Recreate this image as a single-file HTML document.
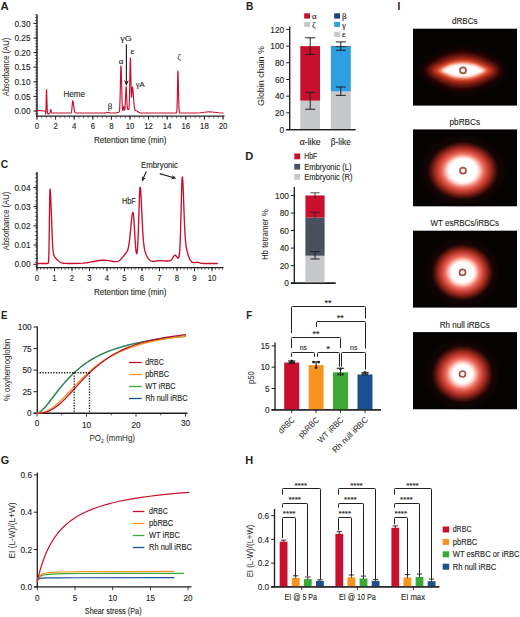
<!DOCTYPE html>
<html lang="en">
<head>
<meta charset="utf-8">
<title>Figure</title>
<style>
html, body { margin: 0; padding: 0; background: #ffffff; }
body { width: 520px; height: 617px; overflow: hidden; font-family: "Liberation Sans", sans-serif; }
svg { display: block; font-family: "Liberation Sans", sans-serif; }
</style>
</head>
<body>
<svg width="520" height="617" viewBox="0 0 520 617">
<rect x="0" y="0" width="520" height="617" fill="#ffffff"/>
<defs><filter id="b05" x="-30%" y="-60%" width="160%" height="220%"><feGaussianBlur stdDeviation="0.45"/></filter><filter id="b1" x="-30%" y="-60%" width="160%" height="220%"><feGaussianBlur stdDeviation="1.0"/></filter><filter id="b15" x="-30%" y="-60%" width="160%" height="220%"><feGaussianBlur stdDeviation="1.5"/></filter><filter id="b2" x="-30%" y="-60%" width="160%" height="220%"><feGaussianBlur stdDeviation="2.0"/></filter><filter id="b3" x="-30%" y="-60%" width="160%" height="220%"><feGaussianBlur stdDeviation="3.0"/></filter><filter id="b5" x="-30%" y="-60%" width="160%" height="220%"><feGaussianBlur stdDeviation="4.5"/></filter><radialGradient id="haze"><stop offset="0" stop-color="#4a120c" stop-opacity="0.95"/><stop offset="0.62" stop-color="#3a0e09" stop-opacity="0.8"/><stop offset="0.82" stop-color="#220806" stop-opacity="0.45"/><stop offset="1" stop-color="#060303" stop-opacity="0"/></radialGradient><clipPath id="clipd"><rect x="413" y="28.4" width="104" height="77.4"/></clipPath><clipPath id="clipp"><rect x="413" y="129.2" width="104" height="77.4"/></clipPath><radialGradient id="gp"><stop offset="0.000" stop-color="#ffffff" stop-opacity="1.0"/><stop offset="0.323" stop-color="#ffffff" stop-opacity="1.0"/><stop offset="0.386" stop-color="#ffe6e0" stop-opacity="1.0"/><stop offset="0.447" stop-color="#fbb9ae" stop-opacity="1.0"/><stop offset="0.524" stop-color="#ec7465" stop-opacity="1.0"/><stop offset="0.623" stop-color="#cf4437" stop-opacity="1.0"/><stop offset="0.733" stop-color="#94261b" stop-opacity="1.0"/><stop offset="0.832" stop-color="#47110b" stop-opacity="1.0"/><stop offset="0.909" stop-color="#160504" stop-opacity="1.0"/><stop offset="1.000" stop-color="#060303" stop-opacity="0"/></radialGradient><clipPath id="clipw"><rect x="413" y="230.4" width="104" height="77.4"/></clipPath><radialGradient id="gw"><stop offset="0.000" stop-color="#ffffff" stop-opacity="1.0"/><stop offset="0.300" stop-color="#ffffff" stop-opacity="1.0"/><stop offset="0.362" stop-color="#ffe6e0" stop-opacity="1.0"/><stop offset="0.426" stop-color="#fbb9ae" stop-opacity="1.0"/><stop offset="0.506" stop-color="#ec7465" stop-opacity="1.0"/><stop offset="0.610" stop-color="#cf4437" stop-opacity="1.0"/><stop offset="0.725" stop-color="#94261b" stop-opacity="1.0"/><stop offset="0.829" stop-color="#47110b" stop-opacity="1.0"/><stop offset="0.909" stop-color="#160504" stop-opacity="1.0"/><stop offset="1.000" stop-color="#060303" stop-opacity="0"/></radialGradient><clipPath id="clipr"><rect x="413" y="332.1" width="104" height="77.4"/></clipPath><radialGradient id="gr"><stop offset="0.000" stop-color="#ffffff" stop-opacity="1.0"/><stop offset="0.262" stop-color="#ffffff" stop-opacity="1.0"/><stop offset="0.322" stop-color="#ffe6e0" stop-opacity="1.0"/><stop offset="0.390" stop-color="#fbb9ae" stop-opacity="1.0"/><stop offset="0.477" stop-color="#ec7465" stop-opacity="1.0"/><stop offset="0.588" stop-color="#cf4437" stop-opacity="1.0"/><stop offset="0.711" stop-color="#94261b" stop-opacity="1.0"/><stop offset="0.823" stop-color="#47110b" stop-opacity="1.0"/><stop offset="0.909" stop-color="#160504" stop-opacity="1.0"/><stop offset="1.000" stop-color="#060303" stop-opacity="0"/></radialGradient></defs>
<text x="0.60" y="10.20" font-size="11" text-anchor="start" fill="#231f20" font-weight="bold" textLength="8.20" lengthAdjust="spacingAndGlyphs" >A</text>
<line x1="37.00" y1="14.50" x2="37.00" y2="116.80" stroke="#231f20" stroke-width="1.5" />
<line x1="33.40" y1="111.00" x2="37.00" y2="111.00" stroke="#231f20" stroke-width="1.0" />
<text x="30.60" y="114.10" font-size="8.8" text-anchor="end" fill="#231f20" stroke="#231f20" stroke-width="0.12" textLength="16.20" lengthAdjust="spacingAndGlyphs" >0.00</text>
<line x1="33.40" y1="96.40" x2="37.00" y2="96.40" stroke="#231f20" stroke-width="1.0" />
<text x="30.60" y="99.50" font-size="8.8" text-anchor="end" fill="#231f20" stroke="#231f20" stroke-width="0.12" textLength="16.20" lengthAdjust="spacingAndGlyphs" >0.05</text>
<line x1="33.40" y1="81.80" x2="37.00" y2="81.80" stroke="#231f20" stroke-width="1.0" />
<text x="30.60" y="84.90" font-size="8.8" text-anchor="end" fill="#231f20" stroke="#231f20" stroke-width="0.12" textLength="16.20" lengthAdjust="spacingAndGlyphs" >0.10</text>
<line x1="33.40" y1="67.20" x2="37.00" y2="67.20" stroke="#231f20" stroke-width="1.0" />
<text x="30.60" y="70.30" font-size="8.8" text-anchor="end" fill="#231f20" stroke="#231f20" stroke-width="0.12" textLength="16.20" lengthAdjust="spacingAndGlyphs" >0.15</text>
<line x1="33.40" y1="52.60" x2="37.00" y2="52.60" stroke="#231f20" stroke-width="1.0" />
<text x="30.60" y="55.70" font-size="8.8" text-anchor="end" fill="#231f20" stroke="#231f20" stroke-width="0.12" textLength="16.20" lengthAdjust="spacingAndGlyphs" >0.20</text>
<line x1="33.40" y1="38.00" x2="37.00" y2="38.00" stroke="#231f20" stroke-width="1.0" />
<text x="30.60" y="41.10" font-size="8.8" text-anchor="end" fill="#231f20" stroke="#231f20" stroke-width="0.12" textLength="16.20" lengthAdjust="spacingAndGlyphs" >0.25</text>
<line x1="33.40" y1="23.40" x2="37.00" y2="23.40" stroke="#231f20" stroke-width="1.0" />
<text x="30.60" y="26.50" font-size="8.8" text-anchor="end" fill="#231f20" stroke="#231f20" stroke-width="0.12" textLength="16.20" lengthAdjust="spacingAndGlyphs" >0.30</text>
<line x1="34.80" y1="113.92" x2="37.00" y2="113.92" stroke="#231f20" stroke-width="0.6" />
<line x1="34.80" y1="111.00" x2="37.00" y2="111.00" stroke="#231f20" stroke-width="0.6" />
<line x1="34.80" y1="108.08" x2="37.00" y2="108.08" stroke="#231f20" stroke-width="0.6" />
<line x1="34.80" y1="105.16" x2="37.00" y2="105.16" stroke="#231f20" stroke-width="0.6" />
<line x1="34.80" y1="102.24" x2="37.00" y2="102.24" stroke="#231f20" stroke-width="0.6" />
<line x1="34.80" y1="99.32" x2="37.00" y2="99.32" stroke="#231f20" stroke-width="0.6" />
<line x1="34.80" y1="96.40" x2="37.00" y2="96.40" stroke="#231f20" stroke-width="0.6" />
<line x1="34.80" y1="93.48" x2="37.00" y2="93.48" stroke="#231f20" stroke-width="0.6" />
<line x1="34.80" y1="90.56" x2="37.00" y2="90.56" stroke="#231f20" stroke-width="0.6" />
<line x1="34.80" y1="87.64" x2="37.00" y2="87.64" stroke="#231f20" stroke-width="0.6" />
<line x1="34.80" y1="84.72" x2="37.00" y2="84.72" stroke="#231f20" stroke-width="0.6" />
<line x1="34.80" y1="81.80" x2="37.00" y2="81.80" stroke="#231f20" stroke-width="0.6" />
<line x1="34.80" y1="78.88" x2="37.00" y2="78.88" stroke="#231f20" stroke-width="0.6" />
<line x1="34.80" y1="75.96" x2="37.00" y2="75.96" stroke="#231f20" stroke-width="0.6" />
<line x1="34.80" y1="73.04" x2="37.00" y2="73.04" stroke="#231f20" stroke-width="0.6" />
<line x1="34.80" y1="70.12" x2="37.00" y2="70.12" stroke="#231f20" stroke-width="0.6" />
<line x1="34.80" y1="67.20" x2="37.00" y2="67.20" stroke="#231f20" stroke-width="0.6" />
<line x1="34.80" y1="64.28" x2="37.00" y2="64.28" stroke="#231f20" stroke-width="0.6" />
<line x1="34.80" y1="61.36" x2="37.00" y2="61.36" stroke="#231f20" stroke-width="0.6" />
<line x1="34.80" y1="58.44" x2="37.00" y2="58.44" stroke="#231f20" stroke-width="0.6" />
<line x1="34.80" y1="55.52" x2="37.00" y2="55.52" stroke="#231f20" stroke-width="0.6" />
<line x1="34.80" y1="52.60" x2="37.00" y2="52.60" stroke="#231f20" stroke-width="0.6" />
<line x1="34.80" y1="49.68" x2="37.00" y2="49.68" stroke="#231f20" stroke-width="0.6" />
<line x1="34.80" y1="46.76" x2="37.00" y2="46.76" stroke="#231f20" stroke-width="0.6" />
<line x1="34.80" y1="43.84" x2="37.00" y2="43.84" stroke="#231f20" stroke-width="0.6" />
<line x1="34.80" y1="40.92" x2="37.00" y2="40.92" stroke="#231f20" stroke-width="0.6" />
<line x1="34.80" y1="38.00" x2="37.00" y2="38.00" stroke="#231f20" stroke-width="0.6" />
<line x1="34.80" y1="35.08" x2="37.00" y2="35.08" stroke="#231f20" stroke-width="0.6" />
<line x1="34.80" y1="32.16" x2="37.00" y2="32.16" stroke="#231f20" stroke-width="0.6" />
<line x1="34.80" y1="29.24" x2="37.00" y2="29.24" stroke="#231f20" stroke-width="0.6" />
<line x1="34.80" y1="26.32" x2="37.00" y2="26.32" stroke="#231f20" stroke-width="0.6" />
<line x1="34.80" y1="23.40" x2="37.00" y2="23.40" stroke="#231f20" stroke-width="0.6" />
<line x1="34.80" y1="20.48" x2="37.00" y2="20.48" stroke="#231f20" stroke-width="0.6" />
<line x1="34.80" y1="17.56" x2="37.00" y2="17.56" stroke="#231f20" stroke-width="0.6" />
<line x1="34.80" y1="14.64" x2="37.00" y2="14.64" stroke="#231f20" stroke-width="0.6" />
<line x1="36.25" y1="116.10" x2="224.50" y2="116.10" stroke="#231f20" stroke-width="1.4" />
<line x1="37.00" y1="116.10" x2="37.00" y2="119.70" stroke="#231f20" stroke-width="1.0" />
<text x="37.00" y="129.30" font-size="8.4" text-anchor="middle" fill="#231f20" stroke="#231f20" stroke-width="0.12" textLength="4.35" lengthAdjust="spacingAndGlyphs" >0</text>
<line x1="55.60" y1="116.10" x2="55.60" y2="119.70" stroke="#231f20" stroke-width="1.0" />
<text x="55.60" y="129.30" font-size="8.4" text-anchor="middle" fill="#231f20" stroke="#231f20" stroke-width="0.12" textLength="4.35" lengthAdjust="spacingAndGlyphs" >2</text>
<line x1="74.20" y1="116.10" x2="74.20" y2="119.70" stroke="#231f20" stroke-width="1.0" />
<text x="74.20" y="129.30" font-size="8.4" text-anchor="middle" fill="#231f20" stroke="#231f20" stroke-width="0.12" textLength="4.35" lengthAdjust="spacingAndGlyphs" >4</text>
<line x1="92.80" y1="116.10" x2="92.80" y2="119.70" stroke="#231f20" stroke-width="1.0" />
<text x="92.80" y="129.30" font-size="8.4" text-anchor="middle" fill="#231f20" stroke="#231f20" stroke-width="0.12" textLength="4.35" lengthAdjust="spacingAndGlyphs" >6</text>
<line x1="111.40" y1="116.10" x2="111.40" y2="119.70" stroke="#231f20" stroke-width="1.0" />
<text x="111.40" y="129.30" font-size="8.4" text-anchor="middle" fill="#231f20" stroke="#231f20" stroke-width="0.12" textLength="4.35" lengthAdjust="spacingAndGlyphs" >8</text>
<line x1="130.00" y1="116.10" x2="130.00" y2="119.70" stroke="#231f20" stroke-width="1.0" />
<text x="130.00" y="129.30" font-size="8.4" text-anchor="middle" fill="#231f20" stroke="#231f20" stroke-width="0.12" textLength="8.70" lengthAdjust="spacingAndGlyphs" >10</text>
<line x1="148.60" y1="116.10" x2="148.60" y2="119.70" stroke="#231f20" stroke-width="1.0" />
<text x="148.60" y="129.30" font-size="8.4" text-anchor="middle" fill="#231f20" stroke="#231f20" stroke-width="0.12" textLength="8.70" lengthAdjust="spacingAndGlyphs" >12</text>
<line x1="167.20" y1="116.10" x2="167.20" y2="119.70" stroke="#231f20" stroke-width="1.0" />
<text x="167.20" y="129.30" font-size="8.4" text-anchor="middle" fill="#231f20" stroke="#231f20" stroke-width="0.12" textLength="8.70" lengthAdjust="spacingAndGlyphs" >14</text>
<line x1="185.80" y1="116.10" x2="185.80" y2="119.70" stroke="#231f20" stroke-width="1.0" />
<text x="185.80" y="129.30" font-size="8.4" text-anchor="middle" fill="#231f20" stroke="#231f20" stroke-width="0.12" textLength="8.70" lengthAdjust="spacingAndGlyphs" >16</text>
<line x1="204.40" y1="116.10" x2="204.40" y2="119.70" stroke="#231f20" stroke-width="1.0" />
<text x="204.40" y="129.30" font-size="8.4" text-anchor="middle" fill="#231f20" stroke="#231f20" stroke-width="0.12" textLength="8.70" lengthAdjust="spacingAndGlyphs" >18</text>
<line x1="223.00" y1="116.10" x2="223.00" y2="119.70" stroke="#231f20" stroke-width="1.0" />
<text x="223.00" y="129.30" font-size="8.4" text-anchor="middle" fill="#231f20" stroke="#231f20" stroke-width="0.12" textLength="8.70" lengthAdjust="spacingAndGlyphs" >20</text>
<line x1="37.00" y1="116.10" x2="37.00" y2="118.30" stroke="#231f20" stroke-width="0.6" />
<line x1="41.65" y1="116.10" x2="41.65" y2="118.30" stroke="#231f20" stroke-width="0.6" />
<line x1="46.30" y1="116.10" x2="46.30" y2="118.30" stroke="#231f20" stroke-width="0.6" />
<line x1="50.95" y1="116.10" x2="50.95" y2="118.30" stroke="#231f20" stroke-width="0.6" />
<line x1="55.60" y1="116.10" x2="55.60" y2="118.30" stroke="#231f20" stroke-width="0.6" />
<line x1="60.25" y1="116.10" x2="60.25" y2="118.30" stroke="#231f20" stroke-width="0.6" />
<line x1="64.90" y1="116.10" x2="64.90" y2="118.30" stroke="#231f20" stroke-width="0.6" />
<line x1="69.55" y1="116.10" x2="69.55" y2="118.30" stroke="#231f20" stroke-width="0.6" />
<line x1="74.20" y1="116.10" x2="74.20" y2="118.30" stroke="#231f20" stroke-width="0.6" />
<line x1="78.85" y1="116.10" x2="78.85" y2="118.30" stroke="#231f20" stroke-width="0.6" />
<line x1="83.50" y1="116.10" x2="83.50" y2="118.30" stroke="#231f20" stroke-width="0.6" />
<line x1="88.15" y1="116.10" x2="88.15" y2="118.30" stroke="#231f20" stroke-width="0.6" />
<line x1="92.80" y1="116.10" x2="92.80" y2="118.30" stroke="#231f20" stroke-width="0.6" />
<line x1="97.45" y1="116.10" x2="97.45" y2="118.30" stroke="#231f20" stroke-width="0.6" />
<line x1="102.10" y1="116.10" x2="102.10" y2="118.30" stroke="#231f20" stroke-width="0.6" />
<line x1="106.75" y1="116.10" x2="106.75" y2="118.30" stroke="#231f20" stroke-width="0.6" />
<line x1="111.40" y1="116.10" x2="111.40" y2="118.30" stroke="#231f20" stroke-width="0.6" />
<line x1="116.05" y1="116.10" x2="116.05" y2="118.30" stroke="#231f20" stroke-width="0.6" />
<line x1="120.70" y1="116.10" x2="120.70" y2="118.30" stroke="#231f20" stroke-width="0.6" />
<line x1="125.35" y1="116.10" x2="125.35" y2="118.30" stroke="#231f20" stroke-width="0.6" />
<line x1="130.00" y1="116.10" x2="130.00" y2="118.30" stroke="#231f20" stroke-width="0.6" />
<line x1="134.65" y1="116.10" x2="134.65" y2="118.30" stroke="#231f20" stroke-width="0.6" />
<line x1="139.30" y1="116.10" x2="139.30" y2="118.30" stroke="#231f20" stroke-width="0.6" />
<line x1="143.95" y1="116.10" x2="143.95" y2="118.30" stroke="#231f20" stroke-width="0.6" />
<line x1="148.60" y1="116.10" x2="148.60" y2="118.30" stroke="#231f20" stroke-width="0.6" />
<line x1="153.25" y1="116.10" x2="153.25" y2="118.30" stroke="#231f20" stroke-width="0.6" />
<line x1="157.90" y1="116.10" x2="157.90" y2="118.30" stroke="#231f20" stroke-width="0.6" />
<line x1="162.55" y1="116.10" x2="162.55" y2="118.30" stroke="#231f20" stroke-width="0.6" />
<line x1="167.20" y1="116.10" x2="167.20" y2="118.30" stroke="#231f20" stroke-width="0.6" />
<line x1="171.85" y1="116.10" x2="171.85" y2="118.30" stroke="#231f20" stroke-width="0.6" />
<line x1="176.50" y1="116.10" x2="176.50" y2="118.30" stroke="#231f20" stroke-width="0.6" />
<line x1="181.15" y1="116.10" x2="181.15" y2="118.30" stroke="#231f20" stroke-width="0.6" />
<line x1="185.80" y1="116.10" x2="185.80" y2="118.30" stroke="#231f20" stroke-width="0.6" />
<line x1="190.45" y1="116.10" x2="190.45" y2="118.30" stroke="#231f20" stroke-width="0.6" />
<line x1="195.10" y1="116.10" x2="195.10" y2="118.30" stroke="#231f20" stroke-width="0.6" />
<line x1="199.75" y1="116.10" x2="199.75" y2="118.30" stroke="#231f20" stroke-width="0.6" />
<line x1="204.40" y1="116.10" x2="204.40" y2="118.30" stroke="#231f20" stroke-width="0.6" />
<line x1="209.05" y1="116.10" x2="209.05" y2="118.30" stroke="#231f20" stroke-width="0.6" />
<line x1="213.70" y1="116.10" x2="213.70" y2="118.30" stroke="#231f20" stroke-width="0.6" />
<line x1="218.35" y1="116.10" x2="218.35" y2="118.30" stroke="#231f20" stroke-width="0.6" />
<line x1="223.00" y1="116.10" x2="223.00" y2="118.30" stroke="#231f20" stroke-width="0.6" />
<text x="130.20" y="143.20" font-size="9.6" text-anchor="middle" fill="#231f20" stroke="#231f20" stroke-width="0.12" textLength="72.30" lengthAdjust="spacingAndGlyphs" >Retention time (min)</text>
<text x="8.90" y="67.00" font-size="9.4" text-anchor="middle" fill="#231f20" textLength="58.40" lengthAdjust="spacingAndGlyphs" transform="rotate(-90 8.90 67.00)" >Absorbance (AU)</text>
<path d="M37.00,110.42 L44.81,110.95 L45.09,111.19 L45.46,111.93 L45.60,112.04 L45.65,114.08 L45.84,113.00 L45.97,110.32 L46.35,92.69 L46.49,89.47 L46.58,90.12 L46.67,92.01 L47.09,106.11 L47.32,111.00 L47.46,112.44 L47.60,113.18 L47.83,113.67 L48.16,113.89 L48.44,113.91 L48.76,113.79 L49.65,113.19 L49.88,112.94 L50.16,112.15 L50.58,109.96 L50.67,109.65 L50.76,109.54 L50.86,109.65 L50.95,109.95 L51.46,112.44 L51.69,112.89 L51.97,113.03 L70.20,113.04 L70.71,113.02 L70.99,112.94 L71.18,112.76 L71.36,112.38 L71.64,111.09 L71.92,108.55 L72.43,102.22 L72.57,101.16 L72.71,100.78 L72.81,100.84 L72.94,101.14 L73.18,102.17 L74.06,108.58 L74.53,111.07 L74.76,111.85 L75.04,112.44 L75.36,112.80 L75.73,112.97 L76.94,113.04 L103.54,113.04 L105.08,112.94 L106.98,112.53 L107.68,112.46 L108.33,112.52 L109.87,112.87 L110.75,112.99 L114.66,113.03 L115.58,112.99 L116.33,112.87 L118.05,112.30 L118.93,112.08 L119.12,111.93 L119.26,111.66 L119.49,110.58 L119.68,108.64 L119.86,105.15 L120.14,96.08 L120.70,70.87 L120.84,67.07 L120.98,65.76 L121.12,66.83 L121.30,71.18 L122.14,102.79 L122.37,107.58 L122.61,109.98 L122.75,110.48 L122.84,110.51 L122.93,110.33 L123.54,107.12 L123.68,106.69 L123.77,106.60 L123.86,106.69 L124.00,107.11 L124.56,109.92 L124.65,110.05 L124.75,109.95 L124.89,109.27 L125.21,104.76 L125.82,89.78 L125.95,87.57 L126.09,86.69 L126.23,87.27 L126.37,89.19 L126.98,103.06 L127.30,107.55 L127.49,108.71 L127.68,109.23 L127.91,109.43 L128.51,109.58 L128.65,109.55 L128.79,109.34 L128.88,109.02 L129.07,107.60 L129.35,102.05 L129.58,92.86 L130.09,64.46 L130.23,59.52 L130.37,57.76 L130.47,58.53 L130.60,62.42 L131.16,90.22 L131.30,94.63 L131.44,96.90 L131.53,97.30 L131.67,96.53 L132.28,87.52 L132.42,86.96 L132.56,87.16 L132.74,88.08 L132.98,90.18 L133.86,102.01 L134.28,106.34 L134.51,107.97 L134.79,109.26 L135.12,110.08 L135.49,110.48 L136.46,110.75 L136.93,110.96 L138.65,112.17 L139.44,112.60 L140.28,112.87 L141.35,113.00 L175.80,113.04 L176.27,113.02 L176.45,112.93 L176.59,112.71 L176.69,112.40 L176.83,111.44 L177.06,107.35 L177.29,98.23 L177.71,74.95 L177.80,72.02 L177.90,71.00 L178.03,72.36 L178.17,76.18 L178.69,98.41 L178.96,106.95 L179.10,109.48 L179.29,111.47 L179.48,112.43 L179.71,112.88 L179.94,113.01 L180.45,113.04 L191.71,113.03 L196.22,112.96 L200.17,112.71 L206.59,111.98 L209.10,111.88 L211.93,112.02 L218.77,112.79 L223.00,112.99" fill="none" stroke="#c8102e" stroke-width="1.15" stroke-linejoin="round" stroke-linecap="round" />
<text x="74.30" y="96.50" font-size="8.5" text-anchor="middle" fill="#231f20" stroke="#231f20" stroke-width="0.12" textLength="21.50" lengthAdjust="spacingAndGlyphs" >Heme</text>
<text x="110.00" y="108.80" font-size="8.0" text-anchor="middle" fill="#231f20" stroke="#231f20" stroke-width="0.12" ><tspan font-family="Liberation Serif, serif" font-size="8.96">β</tspan></text>
<text x="121.00" y="64.00" font-size="8.0" text-anchor="middle" fill="#231f20" stroke="#231f20" stroke-width="0.12" ><tspan font-family="Liberation Serif, serif" font-size="8.96">α</tspan></text>
<text x="126.00" y="41.00" font-size="8.0" text-anchor="middle" fill="#231f20" stroke="#231f20" stroke-width="0.12" textLength="11.60" lengthAdjust="spacingAndGlyphs" ><tspan font-family="Liberation Serif, serif" font-size="8.96">γ</tspan>G</text>
<text x="132.30" y="54.20" font-size="8.0" text-anchor="middle" fill="#231f20" stroke="#231f20" stroke-width="0.12" ><tspan font-family="Liberation Serif, serif" font-size="8.96">ε</tspan></text>
<text x="140.20" y="87.30" font-size="8.0" text-anchor="middle" fill="#231f20" stroke="#231f20" stroke-width="0.12" textLength="9.00" lengthAdjust="spacingAndGlyphs" ><tspan font-family="Liberation Serif, serif" font-size="8.96">γ</tspan>A</text>
<text x="179.20" y="60.00" font-size="8.0" text-anchor="middle" fill="#231f20" stroke="#231f20" stroke-width="0.12" ><tspan font-family="Liberation Serif, serif" font-size="8.96">ζ</tspan></text>
<line x1="126.40" y1="44.20" x2="126.40" y2="81.50" stroke="#231f20" stroke-width="1.15" />
<path d="M124.0,80.3 L126.4,86.0 L128.8,80.3 L126.4,81.7 Z" fill="#231f20"/>
<text x="246.00" y="10.00" font-size="11" text-anchor="start" fill="#231f20" font-weight="bold" textLength="7.30" lengthAdjust="spacingAndGlyphs" >B</text>
<line x1="289.70" y1="26.50" x2="289.70" y2="130.30" stroke="#231f20" stroke-width="1.35" />
<line x1="286.10" y1="129.60" x2="289.70" y2="129.60" stroke="#231f20" stroke-width="1.0" />
<text x="284.20" y="132.70" font-size="8.8" text-anchor="end" fill="#231f20" stroke="#231f20" stroke-width="0.12" textLength="4.65" lengthAdjust="spacingAndGlyphs" >0</text>
<line x1="286.10" y1="112.90" x2="289.70" y2="112.90" stroke="#231f20" stroke-width="1.0" />
<text x="284.20" y="116.00" font-size="8.8" text-anchor="end" fill="#231f20" stroke="#231f20" stroke-width="0.12" textLength="9.30" lengthAdjust="spacingAndGlyphs" >20</text>
<line x1="286.10" y1="96.20" x2="289.70" y2="96.20" stroke="#231f20" stroke-width="1.0" />
<text x="284.20" y="99.30" font-size="8.8" text-anchor="end" fill="#231f20" stroke="#231f20" stroke-width="0.12" textLength="9.30" lengthAdjust="spacingAndGlyphs" >40</text>
<line x1="286.10" y1="79.50" x2="289.70" y2="79.50" stroke="#231f20" stroke-width="1.0" />
<text x="284.20" y="82.60" font-size="8.8" text-anchor="end" fill="#231f20" stroke="#231f20" stroke-width="0.12" textLength="9.30" lengthAdjust="spacingAndGlyphs" >60</text>
<line x1="286.10" y1="62.80" x2="289.70" y2="62.80" stroke="#231f20" stroke-width="1.0" />
<text x="284.20" y="65.90" font-size="8.8" text-anchor="end" fill="#231f20" stroke="#231f20" stroke-width="0.12" textLength="9.30" lengthAdjust="spacingAndGlyphs" >80</text>
<line x1="286.10" y1="46.10" x2="289.70" y2="46.10" stroke="#231f20" stroke-width="1.0" />
<text x="284.20" y="49.20" font-size="8.8" text-anchor="end" fill="#231f20" stroke="#231f20" stroke-width="0.12" textLength="13.95" lengthAdjust="spacingAndGlyphs" >100</text>
<line x1="286.10" y1="29.40" x2="289.70" y2="29.40" stroke="#231f20" stroke-width="1.0" />
<text x="284.20" y="32.50" font-size="8.8" text-anchor="end" fill="#231f20" stroke="#231f20" stroke-width="0.12" textLength="13.95" lengthAdjust="spacingAndGlyphs" >120</text>
<line x1="286.10" y1="129.60" x2="355.50" y2="129.60" stroke="#231f20" stroke-width="1.35" />
<rect x="300.30" y="100.63" width="19.70" height="28.97" fill="#c7c8ca"/>
<rect x="300.30" y="46.10" width="19.70" height="54.53" fill="#c8102e"/>
<rect x="330.80" y="91.44" width="20.00" height="38.16" fill="#c7c8ca"/>
<rect x="330.80" y="46.52" width="20.00" height="44.92" fill="#2e9fe0"/>
<rect x="330.80" y="46.10" width="20.00" height="0.60" fill="#1d3d7c"/>
<line x1="310.20" y1="37.75" x2="310.20" y2="54.45" stroke="#231f20" stroke-width="1.0" />
<line x1="305.20" y1="37.75" x2="315.20" y2="37.75" stroke="#231f20" stroke-width="1.0" />
<line x1="305.20" y1="54.45" x2="315.20" y2="54.45" stroke="#231f20" stroke-width="1.0" />
<line x1="310.20" y1="92.28" x2="310.20" y2="109.23" stroke="#231f20" stroke-width="1.0" />
<line x1="305.20" y1="92.28" x2="315.20" y2="92.28" stroke="#231f20" stroke-width="1.0" />
<line x1="305.20" y1="109.23" x2="315.20" y2="109.23" stroke="#231f20" stroke-width="1.0" />
<line x1="340.80" y1="41.92" x2="340.80" y2="50.27" stroke="#231f20" stroke-width="1.0" />
<line x1="335.80" y1="41.92" x2="345.80" y2="41.92" stroke="#231f20" stroke-width="1.0" />
<line x1="335.80" y1="50.27" x2="345.80" y2="50.27" stroke="#231f20" stroke-width="1.0" />
<line x1="335.80" y1="46.68" x2="345.80" y2="46.68" stroke="#231f20" stroke-width="0.8" />
<line x1="340.80" y1="87.01" x2="340.80" y2="95.36" stroke="#231f20" stroke-width="1.0" />
<line x1="335.80" y1="87.01" x2="345.80" y2="87.01" stroke="#231f20" stroke-width="1.0" />
<line x1="335.80" y1="95.36" x2="345.80" y2="95.36" stroke="#231f20" stroke-width="1.0" />
<line x1="286.10" y1="129.60" x2="355.50" y2="129.60" stroke="#231f20" stroke-width="1.35" />
<text x="310.20" y="144.50" font-size="8.5" text-anchor="middle" fill="#231f20" stroke="#231f20" stroke-width="0.12" textLength="21.00" lengthAdjust="spacingAndGlyphs" ><tspan font-family="Liberation Serif, serif" font-size="9.52">α</tspan>-like</text>
<text x="340.80" y="144.50" font-size="8.5" text-anchor="middle" fill="#231f20" stroke="#231f20" stroke-width="0.12" textLength="20.00" lengthAdjust="spacingAndGlyphs" ><tspan font-family="Liberation Serif, serif" font-size="9.52">β</tspan>-like</text>
<text x="263.60" y="76.00" font-size="9.4" text-anchor="middle" fill="#231f20" textLength="60.00" lengthAdjust="spacingAndGlyphs" transform="rotate(-90 263.60 76.00)" >Globin chain %</text>
<rect x="304.20" y="13.30" width="5.80" height="5.30" fill="#c8102e"/>
<rect x="304.20" y="21.90" width="5.80" height="5.00" fill="#c7c8ca"/>
<rect x="334.20" y="13.30" width="5.80" height="5.30" fill="#1d3d7c"/>
<rect x="334.20" y="21.90" width="5.80" height="5.00" fill="#2e9fe0"/>
<rect x="334.20" y="31.80" width="5.80" height="5.00" fill="#c7c8ca"/>
<text x="312.00" y="18.60" font-size="8.0" text-anchor="start" fill="#231f20" stroke="#231f20" stroke-width="0.12" ><tspan font-family="Liberation Serif, serif" font-size="8.96">α</tspan></text>
<text x="312.00" y="28.20" font-size="8.0" text-anchor="start" fill="#231f20" stroke="#231f20" stroke-width="0.12" ><tspan font-family="Liberation Serif, serif" font-size="8.96">ζ</tspan></text>
<text x="342.00" y="19.00" font-size="8.0" text-anchor="start" fill="#231f20" stroke="#231f20" stroke-width="0.12" ><tspan font-family="Liberation Serif, serif" font-size="8.96">β</tspan></text>
<text x="342.00" y="28.20" font-size="8.0" text-anchor="start" fill="#231f20" stroke="#231f20" stroke-width="0.12" ><tspan font-family="Liberation Serif, serif" font-size="8.96">γ</tspan></text>
<text x="342.00" y="37.20" font-size="8.0" text-anchor="start" fill="#231f20" stroke="#231f20" stroke-width="0.12" ><tspan font-family="Liberation Serif, serif" font-size="8.96">ε</tspan></text>
<text x="0.80" y="168.00" font-size="11" text-anchor="start" fill="#231f20" font-weight="bold" textLength="7.40" lengthAdjust="spacingAndGlyphs" >C</text>
<line x1="37.00" y1="172.00" x2="37.00" y2="268.30" stroke="#231f20" stroke-width="1.5" />
<line x1="33.40" y1="264.25" x2="37.00" y2="264.25" stroke="#231f20" stroke-width="1.0" />
<text x="30.60" y="267.35" font-size="8.8" text-anchor="end" fill="#231f20" stroke="#231f20" stroke-width="0.12" textLength="16.20" lengthAdjust="spacingAndGlyphs" >0.00</text>
<line x1="33.40" y1="245.05" x2="37.00" y2="245.05" stroke="#231f20" stroke-width="1.0" />
<text x="30.60" y="248.15" font-size="8.8" text-anchor="end" fill="#231f20" stroke="#231f20" stroke-width="0.12" textLength="16.20" lengthAdjust="spacingAndGlyphs" >0.01</text>
<line x1="33.40" y1="225.85" x2="37.00" y2="225.85" stroke="#231f20" stroke-width="1.0" />
<text x="30.60" y="228.95" font-size="8.8" text-anchor="end" fill="#231f20" stroke="#231f20" stroke-width="0.12" textLength="16.20" lengthAdjust="spacingAndGlyphs" >0.02</text>
<line x1="33.40" y1="206.65" x2="37.00" y2="206.65" stroke="#231f20" stroke-width="1.0" />
<text x="30.60" y="209.75" font-size="8.8" text-anchor="end" fill="#231f20" stroke="#231f20" stroke-width="0.12" textLength="16.20" lengthAdjust="spacingAndGlyphs" >0.03</text>
<line x1="33.40" y1="187.45" x2="37.00" y2="187.45" stroke="#231f20" stroke-width="1.0" />
<text x="30.60" y="190.55" font-size="8.8" text-anchor="end" fill="#231f20" stroke="#231f20" stroke-width="0.12" textLength="16.20" lengthAdjust="spacingAndGlyphs" >0.04</text>
<line x1="34.80" y1="266.17" x2="37.00" y2="266.17" stroke="#231f20" stroke-width="0.6" />
<line x1="34.80" y1="262.33" x2="37.00" y2="262.33" stroke="#231f20" stroke-width="0.6" />
<line x1="34.80" y1="258.49" x2="37.00" y2="258.49" stroke="#231f20" stroke-width="0.6" />
<line x1="34.80" y1="254.65" x2="37.00" y2="254.65" stroke="#231f20" stroke-width="0.6" />
<line x1="34.80" y1="250.81" x2="37.00" y2="250.81" stroke="#231f20" stroke-width="0.6" />
<line x1="34.80" y1="246.97" x2="37.00" y2="246.97" stroke="#231f20" stroke-width="0.6" />
<line x1="34.80" y1="243.13" x2="37.00" y2="243.13" stroke="#231f20" stroke-width="0.6" />
<line x1="34.80" y1="239.29" x2="37.00" y2="239.29" stroke="#231f20" stroke-width="0.6" />
<line x1="34.80" y1="235.45" x2="37.00" y2="235.45" stroke="#231f20" stroke-width="0.6" />
<line x1="34.80" y1="231.61" x2="37.00" y2="231.61" stroke="#231f20" stroke-width="0.6" />
<line x1="34.80" y1="227.77" x2="37.00" y2="227.77" stroke="#231f20" stroke-width="0.6" />
<line x1="34.80" y1="223.93" x2="37.00" y2="223.93" stroke="#231f20" stroke-width="0.6" />
<line x1="34.80" y1="220.09" x2="37.00" y2="220.09" stroke="#231f20" stroke-width="0.6" />
<line x1="34.80" y1="216.25" x2="37.00" y2="216.25" stroke="#231f20" stroke-width="0.6" />
<line x1="34.80" y1="212.41" x2="37.00" y2="212.41" stroke="#231f20" stroke-width="0.6" />
<line x1="34.80" y1="208.57" x2="37.00" y2="208.57" stroke="#231f20" stroke-width="0.6" />
<line x1="34.80" y1="204.73" x2="37.00" y2="204.73" stroke="#231f20" stroke-width="0.6" />
<line x1="34.80" y1="200.89" x2="37.00" y2="200.89" stroke="#231f20" stroke-width="0.6" />
<line x1="34.80" y1="197.05" x2="37.00" y2="197.05" stroke="#231f20" stroke-width="0.6" />
<line x1="34.80" y1="193.21" x2="37.00" y2="193.21" stroke="#231f20" stroke-width="0.6" />
<line x1="34.80" y1="189.37" x2="37.00" y2="189.37" stroke="#231f20" stroke-width="0.6" />
<line x1="34.80" y1="185.53" x2="37.00" y2="185.53" stroke="#231f20" stroke-width="0.6" />
<line x1="34.80" y1="181.69" x2="37.00" y2="181.69" stroke="#231f20" stroke-width="0.6" />
<line x1="34.80" y1="177.85" x2="37.00" y2="177.85" stroke="#231f20" stroke-width="0.6" />
<line x1="34.80" y1="174.01" x2="37.00" y2="174.01" stroke="#231f20" stroke-width="0.6" />
<line x1="36.25" y1="267.60" x2="223.50" y2="267.60" stroke="#231f20" stroke-width="1.4" />
<line x1="37.00" y1="267.60" x2="37.00" y2="271.20" stroke="#231f20" stroke-width="1.0" />
<text x="37.00" y="281.00" font-size="8.4" text-anchor="middle" fill="#231f20" stroke="#231f20" stroke-width="0.12" textLength="4.35" lengthAdjust="spacingAndGlyphs" >0</text>
<line x1="54.50" y1="267.60" x2="54.50" y2="271.20" stroke="#231f20" stroke-width="1.0" />
<text x="54.50" y="281.00" font-size="8.4" text-anchor="middle" fill="#231f20" stroke="#231f20" stroke-width="0.12" textLength="4.35" lengthAdjust="spacingAndGlyphs" >1</text>
<line x1="72.00" y1="267.60" x2="72.00" y2="271.20" stroke="#231f20" stroke-width="1.0" />
<text x="72.00" y="281.00" font-size="8.4" text-anchor="middle" fill="#231f20" stroke="#231f20" stroke-width="0.12" textLength="4.35" lengthAdjust="spacingAndGlyphs" >2</text>
<line x1="89.50" y1="267.60" x2="89.50" y2="271.20" stroke="#231f20" stroke-width="1.0" />
<text x="89.50" y="281.00" font-size="8.4" text-anchor="middle" fill="#231f20" stroke="#231f20" stroke-width="0.12" textLength="4.35" lengthAdjust="spacingAndGlyphs" >3</text>
<line x1="107.00" y1="267.60" x2="107.00" y2="271.20" stroke="#231f20" stroke-width="1.0" />
<text x="107.00" y="281.00" font-size="8.4" text-anchor="middle" fill="#231f20" stroke="#231f20" stroke-width="0.12" textLength="4.35" lengthAdjust="spacingAndGlyphs" >4</text>
<line x1="124.50" y1="267.60" x2="124.50" y2="271.20" stroke="#231f20" stroke-width="1.0" />
<text x="124.50" y="281.00" font-size="8.4" text-anchor="middle" fill="#231f20" stroke="#231f20" stroke-width="0.12" textLength="4.35" lengthAdjust="spacingAndGlyphs" >5</text>
<line x1="142.00" y1="267.60" x2="142.00" y2="271.20" stroke="#231f20" stroke-width="1.0" />
<text x="142.00" y="281.00" font-size="8.4" text-anchor="middle" fill="#231f20" stroke="#231f20" stroke-width="0.12" textLength="4.35" lengthAdjust="spacingAndGlyphs" >6</text>
<line x1="159.50" y1="267.60" x2="159.50" y2="271.20" stroke="#231f20" stroke-width="1.0" />
<text x="159.50" y="281.00" font-size="8.4" text-anchor="middle" fill="#231f20" stroke="#231f20" stroke-width="0.12" textLength="4.35" lengthAdjust="spacingAndGlyphs" >7</text>
<line x1="177.00" y1="267.60" x2="177.00" y2="271.20" stroke="#231f20" stroke-width="1.0" />
<text x="177.00" y="281.00" font-size="8.4" text-anchor="middle" fill="#231f20" stroke="#231f20" stroke-width="0.12" textLength="4.35" lengthAdjust="spacingAndGlyphs" >8</text>
<line x1="194.50" y1="267.60" x2="194.50" y2="271.20" stroke="#231f20" stroke-width="1.0" />
<text x="194.50" y="281.00" font-size="8.4" text-anchor="middle" fill="#231f20" stroke="#231f20" stroke-width="0.12" textLength="4.35" lengthAdjust="spacingAndGlyphs" >9</text>
<line x1="212.00" y1="267.60" x2="212.00" y2="271.20" stroke="#231f20" stroke-width="1.0" />
<text x="212.00" y="281.00" font-size="8.4" text-anchor="middle" fill="#231f20" stroke="#231f20" stroke-width="0.12" textLength="8.70" lengthAdjust="spacingAndGlyphs" >10</text>
<line x1="37.00" y1="267.60" x2="37.00" y2="269.80" stroke="#231f20" stroke-width="0.6" />
<line x1="40.50" y1="267.60" x2="40.50" y2="269.80" stroke="#231f20" stroke-width="0.6" />
<line x1="44.00" y1="267.60" x2="44.00" y2="269.80" stroke="#231f20" stroke-width="0.6" />
<line x1="47.50" y1="267.60" x2="47.50" y2="269.80" stroke="#231f20" stroke-width="0.6" />
<line x1="51.00" y1="267.60" x2="51.00" y2="269.80" stroke="#231f20" stroke-width="0.6" />
<line x1="54.50" y1="267.60" x2="54.50" y2="269.80" stroke="#231f20" stroke-width="0.6" />
<line x1="58.00" y1="267.60" x2="58.00" y2="269.80" stroke="#231f20" stroke-width="0.6" />
<line x1="61.50" y1="267.60" x2="61.50" y2="269.80" stroke="#231f20" stroke-width="0.6" />
<line x1="65.00" y1="267.60" x2="65.00" y2="269.80" stroke="#231f20" stroke-width="0.6" />
<line x1="68.50" y1="267.60" x2="68.50" y2="269.80" stroke="#231f20" stroke-width="0.6" />
<line x1="72.00" y1="267.60" x2="72.00" y2="269.80" stroke="#231f20" stroke-width="0.6" />
<line x1="75.50" y1="267.60" x2="75.50" y2="269.80" stroke="#231f20" stroke-width="0.6" />
<line x1="79.00" y1="267.60" x2="79.00" y2="269.80" stroke="#231f20" stroke-width="0.6" />
<line x1="82.50" y1="267.60" x2="82.50" y2="269.80" stroke="#231f20" stroke-width="0.6" />
<line x1="86.00" y1="267.60" x2="86.00" y2="269.80" stroke="#231f20" stroke-width="0.6" />
<line x1="89.50" y1="267.60" x2="89.50" y2="269.80" stroke="#231f20" stroke-width="0.6" />
<line x1="93.00" y1="267.60" x2="93.00" y2="269.80" stroke="#231f20" stroke-width="0.6" />
<line x1="96.50" y1="267.60" x2="96.50" y2="269.80" stroke="#231f20" stroke-width="0.6" />
<line x1="100.00" y1="267.60" x2="100.00" y2="269.80" stroke="#231f20" stroke-width="0.6" />
<line x1="103.50" y1="267.60" x2="103.50" y2="269.80" stroke="#231f20" stroke-width="0.6" />
<line x1="107.00" y1="267.60" x2="107.00" y2="269.80" stroke="#231f20" stroke-width="0.6" />
<line x1="110.50" y1="267.60" x2="110.50" y2="269.80" stroke="#231f20" stroke-width="0.6" />
<line x1="114.00" y1="267.60" x2="114.00" y2="269.80" stroke="#231f20" stroke-width="0.6" />
<line x1="117.50" y1="267.60" x2="117.50" y2="269.80" stroke="#231f20" stroke-width="0.6" />
<line x1="121.00" y1="267.60" x2="121.00" y2="269.80" stroke="#231f20" stroke-width="0.6" />
<line x1="124.50" y1="267.60" x2="124.50" y2="269.80" stroke="#231f20" stroke-width="0.6" />
<line x1="128.00" y1="267.60" x2="128.00" y2="269.80" stroke="#231f20" stroke-width="0.6" />
<line x1="131.50" y1="267.60" x2="131.50" y2="269.80" stroke="#231f20" stroke-width="0.6" />
<line x1="135.00" y1="267.60" x2="135.00" y2="269.80" stroke="#231f20" stroke-width="0.6" />
<line x1="138.50" y1="267.60" x2="138.50" y2="269.80" stroke="#231f20" stroke-width="0.6" />
<line x1="142.00" y1="267.60" x2="142.00" y2="269.80" stroke="#231f20" stroke-width="0.6" />
<line x1="145.50" y1="267.60" x2="145.50" y2="269.80" stroke="#231f20" stroke-width="0.6" />
<line x1="149.00" y1="267.60" x2="149.00" y2="269.80" stroke="#231f20" stroke-width="0.6" />
<line x1="152.50" y1="267.60" x2="152.50" y2="269.80" stroke="#231f20" stroke-width="0.6" />
<line x1="156.00" y1="267.60" x2="156.00" y2="269.80" stroke="#231f20" stroke-width="0.6" />
<line x1="159.50" y1="267.60" x2="159.50" y2="269.80" stroke="#231f20" stroke-width="0.6" />
<line x1="163.00" y1="267.60" x2="163.00" y2="269.80" stroke="#231f20" stroke-width="0.6" />
<line x1="166.50" y1="267.60" x2="166.50" y2="269.80" stroke="#231f20" stroke-width="0.6" />
<line x1="170.00" y1="267.60" x2="170.00" y2="269.80" stroke="#231f20" stroke-width="0.6" />
<line x1="173.50" y1="267.60" x2="173.50" y2="269.80" stroke="#231f20" stroke-width="0.6" />
<line x1="177.00" y1="267.60" x2="177.00" y2="269.80" stroke="#231f20" stroke-width="0.6" />
<line x1="180.50" y1="267.60" x2="180.50" y2="269.80" stroke="#231f20" stroke-width="0.6" />
<line x1="184.00" y1="267.60" x2="184.00" y2="269.80" stroke="#231f20" stroke-width="0.6" />
<line x1="187.50" y1="267.60" x2="187.50" y2="269.80" stroke="#231f20" stroke-width="0.6" />
<line x1="191.00" y1="267.60" x2="191.00" y2="269.80" stroke="#231f20" stroke-width="0.6" />
<line x1="194.50" y1="267.60" x2="194.50" y2="269.80" stroke="#231f20" stroke-width="0.6" />
<line x1="198.00" y1="267.60" x2="198.00" y2="269.80" stroke="#231f20" stroke-width="0.6" />
<line x1="201.50" y1="267.60" x2="201.50" y2="269.80" stroke="#231f20" stroke-width="0.6" />
<line x1="205.00" y1="267.60" x2="205.00" y2="269.80" stroke="#231f20" stroke-width="0.6" />
<line x1="208.50" y1="267.60" x2="208.50" y2="269.80" stroke="#231f20" stroke-width="0.6" />
<line x1="212.00" y1="267.60" x2="212.00" y2="269.80" stroke="#231f20" stroke-width="0.6" />
<line x1="215.50" y1="267.60" x2="215.50" y2="269.80" stroke="#231f20" stroke-width="0.6" />
<line x1="219.00" y1="267.60" x2="219.00" y2="269.80" stroke="#231f20" stroke-width="0.6" />
<line x1="222.50" y1="267.60" x2="222.50" y2="269.80" stroke="#231f20" stroke-width="0.6" />
<text x="130.20" y="294.50" font-size="9.6" text-anchor="middle" fill="#231f20" stroke="#231f20" stroke-width="0.12" textLength="72.30" lengthAdjust="spacingAndGlyphs" >Retention time (min)</text>
<text x="8.90" y="221.00" font-size="9.4" text-anchor="middle" fill="#231f20" textLength="58.40" lengthAdjust="spacingAndGlyphs" transform="rotate(-90 8.90 221.00)" >Absorbance (AU)</text>
<path d="M37.00,263.48 L47.72,263.47 L48.00,263.41 L48.18,263.24 L48.36,262.75 L48.45,262.27 L48.72,258.83 L48.99,249.83 L49.71,197.38 L49.80,192.97 L49.98,189.23 L50.07,189.31 L50.25,190.32 L50.61,195.34 L51.06,205.66 L52.32,239.58 L52.77,247.28 L53.04,250.42 L53.31,252.67 L53.58,254.24 L53.85,255.32 L54.21,256.27 L54.66,257.03 L55.93,258.47 L57.91,260.52 L59.08,261.50 L60.25,262.25 L61.24,262.71 L62.33,263.04 L63.50,263.26 L64.85,263.39 L69.72,263.47 L78.28,263.38 L82.87,263.15 L86.93,262.74 L90.44,262.18 L97.83,260.74 L99.73,260.46 L101.53,260.29 L103.96,260.22 L106.49,260.37 L108.83,260.68 L113.61,261.51 L115.50,261.68 L116.67,261.63 L117.66,261.43 L118.56,261.09 L119.46,260.56 L120.46,259.76 L121.54,258.64 L124.51,254.82 L126.40,252.50 L126.85,251.82 L127.31,250.97 L127.67,250.08 L128.03,248.94 L128.48,247.06 L128.84,245.11 L129.56,239.89 L130.19,233.93 L131.36,221.46 L131.90,216.61 L132.17,214.76 L132.44,213.41 L132.71,212.62 L132.89,212.44 L133.07,212.53 L133.16,212.72 L133.34,213.52 L133.79,217.84 L134.15,223.15 L135.24,241.80 L135.78,248.87 L136.05,251.30 L136.32,252.92 L136.59,253.67 L136.68,253.72 L136.77,253.67 L137.04,252.83 L137.31,250.90 L137.58,247.74 L137.85,243.20 L138.39,229.88 L139.47,196.01 L139.83,189.08 L140.01,187.52 L140.10,187.26 L140.19,187.23 L140.37,187.76 L140.55,189.06 L140.91,193.71 L142.54,227.80 L142.99,235.33 L143.53,241.99 L144.16,247.08 L144.52,249.10 L144.88,250.70 L145.33,252.31 L145.87,253.89 L146.50,255.43 L147.13,256.72 L147.76,257.80 L148.39,258.71 L149.12,259.54 L149.84,260.20 L150.65,260.75 L151.46,261.13 L152.27,261.37 L153.17,261.47 L154.61,261.38 L157.59,260.76 L159.12,260.59 L160.47,260.61 L163.54,260.91 L165.34,261.00 L168.49,261.01 L169.21,260.95 L169.84,260.82 L170.66,260.44 L171.47,259.73 L172.19,258.79 L173.99,255.95 L174.53,255.41 L174.98,255.21 L175.43,255.28 L175.88,255.60 L176.33,256.13 L177.32,257.57 L177.69,257.96 L178.05,258.15 L178.32,258.09 L178.59,257.78 L178.86,257.13 L179.13,255.99 L179.31,254.85 L179.67,251.32 L180.03,245.45 L180.57,230.76 L181.74,185.33 L182.01,179.06 L182.19,177.11 L182.28,176.85 L182.37,176.93 L182.55,177.90 L182.91,182.91 L183.27,191.19 L184.53,225.25 L184.99,234.00 L185.44,240.26 L185.98,245.28 L186.70,249.52 L187.15,251.48 L187.78,253.81 L188.41,255.81 L189.04,257.51 L190.03,259.62 L190.48,260.36 L191.02,261.09 L191.56,261.65 L192.11,262.08 L192.65,262.38 L193.28,262.59 L193.82,262.66 L194.36,262.66 L196.34,262.32 L197.33,262.29 L198.23,262.46 L200.76,263.22 L201.75,263.38 L202.83,263.45 L217.25,263.48" fill="none" stroke="#c8102e" stroke-width="1.35" stroke-linejoin="round" stroke-linecap="round" />
<text x="128.80" y="204.00" font-size="8.5" text-anchor="middle" fill="#231f20" stroke="#231f20" stroke-width="0.12" textLength="13.80" lengthAdjust="spacingAndGlyphs" >HbF</text>
<text x="159.50" y="168.40" font-size="8.5" text-anchor="middle" fill="#231f20" stroke="#231f20" stroke-width="0.12" textLength="37.00" lengthAdjust="spacingAndGlyphs" >Embryonic</text>
<line x1="146.30" y1="171.50" x2="143.31" y2="178.30" stroke="#231f20" stroke-width="1.1" />
<path d="M141.90,181.50 L141.90,176.04 L143.35,178.20 L145.93,177.81 Z" fill="#231f20"/>
<line x1="159.80" y1="173.60" x2="172.95" y2="177.58" stroke="#231f20" stroke-width="1.1" />
<path d="M176.30,178.60 L170.88,179.26 L172.85,177.56 L172.15,175.04 Z" fill="#231f20"/>
<text x="245.30" y="159.70" font-size="11" text-anchor="start" fill="#231f20" font-weight="bold" textLength="8.00" lengthAdjust="spacingAndGlyphs" >D</text>
<line x1="294.30" y1="187.00" x2="294.30" y2="283.85" stroke="#231f20" stroke-width="1.35" />
<line x1="290.90" y1="283.20" x2="294.30" y2="283.20" stroke="#231f20" stroke-width="1.0" />
<text x="289.00" y="286.30" font-size="8.8" text-anchor="end" fill="#231f20" stroke="#231f20" stroke-width="0.12" textLength="4.65" lengthAdjust="spacingAndGlyphs" >0</text>
<line x1="290.90" y1="265.65" x2="294.30" y2="265.65" stroke="#231f20" stroke-width="1.0" />
<text x="289.00" y="268.75" font-size="8.8" text-anchor="end" fill="#231f20" stroke="#231f20" stroke-width="0.12" textLength="9.30" lengthAdjust="spacingAndGlyphs" >20</text>
<line x1="290.90" y1="248.10" x2="294.30" y2="248.10" stroke="#231f20" stroke-width="1.0" />
<text x="289.00" y="251.20" font-size="8.8" text-anchor="end" fill="#231f20" stroke="#231f20" stroke-width="0.12" textLength="9.30" lengthAdjust="spacingAndGlyphs" >40</text>
<line x1="290.90" y1="230.55" x2="294.30" y2="230.55" stroke="#231f20" stroke-width="1.0" />
<text x="289.00" y="233.65" font-size="8.8" text-anchor="end" fill="#231f20" stroke="#231f20" stroke-width="0.12" textLength="9.30" lengthAdjust="spacingAndGlyphs" >60</text>
<line x1="290.90" y1="213.00" x2="294.30" y2="213.00" stroke="#231f20" stroke-width="1.0" />
<text x="289.00" y="216.10" font-size="8.8" text-anchor="end" fill="#231f20" stroke="#231f20" stroke-width="0.12" textLength="9.30" lengthAdjust="spacingAndGlyphs" >80</text>
<line x1="290.90" y1="195.45" x2="294.30" y2="195.45" stroke="#231f20" stroke-width="1.0" />
<text x="289.00" y="198.55" font-size="8.8" text-anchor="end" fill="#231f20" stroke="#231f20" stroke-width="0.12" textLength="13.95" lengthAdjust="spacingAndGlyphs" >100</text>
<line x1="290.90" y1="283.20" x2="335.50" y2="283.20" stroke="#231f20" stroke-width="1.35" />
<rect x="305.40" y="255.73" width="19.20" height="27.47" fill="#c7c8ca"/>
<rect x="305.40" y="217.56" width="19.20" height="38.17" fill="#47525e"/>
<rect x="305.40" y="195.45" width="19.20" height="22.11" fill="#c8102e"/>
<line x1="315.00" y1="192.82" x2="315.00" y2="198.08" stroke="#231f20" stroke-width="0.8" />
<line x1="310.40" y1="192.82" x2="319.60" y2="192.82" stroke="#231f20" stroke-width="0.8" />
<line x1="315.00" y1="212.30" x2="315.00" y2="217.56" stroke="#231f20" stroke-width="0.8" />
<line x1="310.40" y1="212.30" x2="319.60" y2="212.30" stroke="#231f20" stroke-width="0.8" />
<line x1="315.00" y1="251.61" x2="315.00" y2="258.98" stroke="#231f20" stroke-width="1.0" />
<line x1="310.40" y1="251.61" x2="319.60" y2="251.61" stroke="#231f20" stroke-width="1.0" />
<line x1="310.40" y1="258.98" x2="319.60" y2="258.98" stroke="#231f20" stroke-width="1.0" />
<line x1="290.90" y1="283.20" x2="335.50" y2="283.20" stroke="#231f20" stroke-width="1.35" />
<text x="268.30" y="234.70" font-size="9.2" text-anchor="middle" fill="#231f20" textLength="50.70" lengthAdjust="spacingAndGlyphs" transform="rotate(-90 268.30 234.70)" >Hb tetramer %</text>
<rect x="294.30" y="153.50" width="5.80" height="5.80" fill="#c8102e"/>
<rect x="294.30" y="163.80" width="5.80" height="5.80" fill="#47525e"/>
<rect x="294.30" y="174.00" width="5.80" height="5.80" fill="#c7c8ca"/>
<text x="304.20" y="159.40" font-size="8.3" text-anchor="start" fill="#231f20" stroke="#231f20" stroke-width="0.12" textLength="13.00" lengthAdjust="spacingAndGlyphs" >HbF</text>
<text x="304.20" y="169.70" font-size="8.3" text-anchor="start" fill="#231f20" stroke="#231f20" stroke-width="0.12" textLength="47.30" lengthAdjust="spacingAndGlyphs" >Embryonic (L)</text>
<text x="304.20" y="180.00" font-size="8.3" text-anchor="start" fill="#231f20" stroke="#231f20" stroke-width="0.12" textLength="48.30" lengthAdjust="spacingAndGlyphs" >Embryonic (R)</text>
<text x="1.00" y="319.00" font-size="11" text-anchor="start" fill="#231f20" font-weight="bold" textLength="6.40" lengthAdjust="spacingAndGlyphs" >E</text>
<line x1="37.30" y1="326.50" x2="37.30" y2="413.85" stroke="#231f20" stroke-width="1.3" />
<line x1="33.60" y1="413.25" x2="37.00" y2="413.25" stroke="#231f20" stroke-width="1.0" />
<text x="31.70" y="416.35" font-size="8.8" text-anchor="end" fill="#231f20" stroke="#231f20" stroke-width="0.12" textLength="4.65" lengthAdjust="spacingAndGlyphs" >0</text>
<line x1="33.60" y1="391.69" x2="37.00" y2="391.69" stroke="#231f20" stroke-width="1.0" />
<text x="31.70" y="394.79" font-size="8.8" text-anchor="end" fill="#231f20" stroke="#231f20" stroke-width="0.12" textLength="9.30" lengthAdjust="spacingAndGlyphs" >25</text>
<line x1="33.60" y1="370.12" x2="37.00" y2="370.12" stroke="#231f20" stroke-width="1.0" />
<text x="31.70" y="373.23" font-size="8.8" text-anchor="end" fill="#231f20" stroke="#231f20" stroke-width="0.12" textLength="9.30" lengthAdjust="spacingAndGlyphs" >50</text>
<line x1="33.60" y1="348.56" x2="37.00" y2="348.56" stroke="#231f20" stroke-width="1.0" />
<text x="31.70" y="351.66" font-size="8.8" text-anchor="end" fill="#231f20" stroke="#231f20" stroke-width="0.12" textLength="9.30" lengthAdjust="spacingAndGlyphs" >75</text>
<line x1="33.60" y1="327.00" x2="37.00" y2="327.00" stroke="#231f20" stroke-width="1.0" />
<text x="31.70" y="330.10" font-size="8.8" text-anchor="end" fill="#231f20" stroke="#231f20" stroke-width="0.12" textLength="13.95" lengthAdjust="spacingAndGlyphs" >100</text>
<line x1="33.60" y1="413.25" x2="187.50" y2="413.25" stroke="#231f20" stroke-width="1.3" />
<line x1="37.00" y1="413.25" x2="37.00" y2="416.65" stroke="#231f20" stroke-width="0.9" />
<text x="37.00" y="425.65" font-size="8.8" text-anchor="middle" fill="#231f20" stroke="#231f20" stroke-width="0.12" textLength="4.60" lengthAdjust="spacingAndGlyphs" >0</text>
<line x1="86.50" y1="413.25" x2="86.50" y2="416.65" stroke="#231f20" stroke-width="0.9" />
<text x="86.50" y="427.65" font-size="8.8" text-anchor="middle" fill="#231f20" stroke="#231f20" stroke-width="0.12" textLength="9.20" lengthAdjust="spacingAndGlyphs" >10</text>
<line x1="136.00" y1="413.25" x2="136.00" y2="416.65" stroke="#231f20" stroke-width="0.9" />
<text x="136.00" y="427.65" font-size="8.8" text-anchor="middle" fill="#231f20" stroke="#231f20" stroke-width="0.12" textLength="9.20" lengthAdjust="spacingAndGlyphs" >20</text>
<line x1="185.50" y1="413.25" x2="185.50" y2="416.65" stroke="#231f20" stroke-width="0.9" />
<text x="185.50" y="425.65" font-size="8.8" text-anchor="middle" fill="#231f20" stroke="#231f20" stroke-width="0.12" textLength="9.20" lengthAdjust="spacingAndGlyphs" >30</text>
<line x1="61.75" y1="413.25" x2="61.75" y2="415.45" stroke="#231f20" stroke-width="0.8" />
<line x1="111.25" y1="413.25" x2="111.25" y2="415.45" stroke="#231f20" stroke-width="0.8" />
<line x1="160.75" y1="413.25" x2="160.75" y2="415.45" stroke="#231f20" stroke-width="0.8" />
<text x="10.10" y="370.00" font-size="9.0" text-anchor="middle" fill="#231f20" textLength="62.50" lengthAdjust="spacingAndGlyphs" transform="rotate(-90 10.10 370.00)" >% oxyhemoglobin</text>
<text x="89.5" y="441.3" font-size="8.6" fill="#231f20" textLength="45.5" lengthAdjust="spacingAndGlyphs">PO<tspan font-size="5.6" dy="1.6">2</tspan><tspan dy="-1.6"> (mmHg)</tspan></text>
<path d="M37.00,413.25 L37.49,413.17 L38.48,412.81 L39.48,412.25 L40.47,411.55 L42.45,409.82 L44.42,407.76 L46.41,405.46 L48.38,403.01 L57.79,390.74 L62.74,384.62 L65.71,381.18 L68.19,378.47 L70.66,375.91 L73.13,373.49 L75.61,371.21 L78.58,368.66 L81.55,366.29 L84.52,364.09 L87.49,362.05 L90.46,360.17 L93.43,358.42 L96.90,356.54 L100.86,354.59 L104.81,352.81 L108.78,351.20 L113.23,349.56 L117.69,348.08 L122.64,346.60 L127.59,345.27 L133.03,343.96 L138.48,342.79 L144.42,341.65 L150.36,340.63 L156.79,339.65 L163.23,338.77 L170.16,337.93 L177.58,337.13 L185.50,336.37" fill="none" stroke="#3aaa35" stroke-width="1.35" stroke-linejoin="round" stroke-linecap="round" />
<path d="M37.00,413.25 L37.49,413.18 L38.48,412.85 L39.48,412.34 L40.47,411.69 L42.45,410.06 L44.92,407.55 L46.90,405.28 L48.88,402.85 L58.28,390.66 L63.23,384.54 L66.20,381.10 L68.68,378.39 L71.16,375.81 L74.12,372.91 L76.60,370.65 L79.57,368.11 L82.05,366.13 L85.02,363.92 L87.99,361.87 L90.96,359.97 L93.93,358.21 L97.39,356.32 L101.35,354.35 L105.31,352.57 L109.27,350.94 L113.73,349.30 L118.18,347.81 L123.13,346.32 L128.08,344.99 L133.03,343.79 L138.48,342.61 L144.42,341.46 L150.36,340.44 L156.79,339.45 L163.23,338.57 L170.16,337.72 L177.58,336.92 L185.50,336.16" fill="none" stroke="#1b4f8f" stroke-width="1.2" stroke-linejoin="round" stroke-linecap="round" stroke-opacity="0.5"/>
<path d="M37.00,413.25 L38.98,413.18 L40.96,412.92 L42.94,412.48 L44.92,411.84 L46.90,411.00 L48.88,409.98 L50.86,408.77 L53.34,407.03 L55.31,405.47 L57.30,403.78 L61.26,400.07 L65.22,396.06 L75.12,385.58 L80.06,380.48 L85.51,375.20 L90.46,370.76 L93.43,368.28 L95.91,366.31 L98.88,364.08 L101.84,361.99 L104.81,360.03 L107.79,358.19 L110.76,356.46 L114.22,354.60 L117.69,352.87 L121.15,351.28 L124.61,349.81 L128.57,348.27 L132.54,346.85 L136.50,345.56 L140.45,344.38 L144.91,343.17 L149.37,342.07 L153.82,341.06 L158.77,340.05 L163.72,339.14 L168.67,338.31 L174.12,337.49 L185.50,336.02" fill="none" stroke="#f7941d" stroke-width="1.3" stroke-linejoin="round" stroke-linecap="round" />
<path d="M37.00,413.25 L39.97,413.16 L42.45,412.89 L44.92,412.39 L47.40,411.62 L49.38,410.82 L51.85,409.56 L54.33,408.04 L56.80,406.27 L58.78,404.68 L60.76,402.97 L62.74,401.13 L65.22,398.69 L69.67,394.01 L79.57,383.15 L84.03,378.40 L88.97,373.40 L93.93,368.78 L96.90,366.20 L99.37,364.17 L102.34,361.87 L105.31,359.71 L108.28,357.70 L111.25,355.82 L114.22,354.07 L117.19,352.45 L120.66,350.69 L124.12,349.08 L127.59,347.60 L131.05,346.25 L134.51,345.00 L138.48,343.70 L142.44,342.52 L146.40,341.44 L150.36,340.46 L154.81,339.46 L159.26,338.55 L164.22,337.65 L169.16,336.83 L174.61,336.03 L185.50,334.68" fill="none" stroke="#b50f27" stroke-width="1.25" stroke-linejoin="round" stroke-linecap="round" />
<line x1="37.00" y1="372.71" x2="89.50" y2="372.71" stroke="#231f20" stroke-width="1.35" stroke-dasharray="1.3 1.4"/>
<line x1="74.20" y1="372.71" x2="74.20" y2="413.25" stroke="#231f20" stroke-width="1.35" stroke-dasharray="1.3 1.4"/>
<line x1="89.50" y1="372.71" x2="89.50" y2="413.25" stroke="#231f20" stroke-width="1.35" stroke-dasharray="1.3 1.4"/>
<line x1="129.00" y1="362.50" x2="141.70" y2="362.50" stroke="#c8102e" stroke-width="1.3" />
<text x="145.20" y="365.30" font-size="8.3" text-anchor="start" fill="#231f20" stroke="#231f20" stroke-width="0.12" textLength="18.50" lengthAdjust="spacingAndGlyphs" >dRBC</text>
<line x1="129.00" y1="374.50" x2="141.70" y2="374.50" stroke="#f7941d" stroke-width="1.3" />
<text x="145.20" y="377.30" font-size="8.3" text-anchor="start" fill="#231f20" stroke="#231f20" stroke-width="0.12" textLength="24.00" lengthAdjust="spacingAndGlyphs" >pbRBC</text>
<line x1="129.00" y1="386.50" x2="141.70" y2="386.50" stroke="#3aaa35" stroke-width="1.3" />
<text x="145.20" y="389.30" font-size="8.3" text-anchor="start" fill="#231f20" stroke="#231f20" stroke-width="0.12" textLength="30.50" lengthAdjust="spacingAndGlyphs" >WT iRBC</text>
<line x1="129.00" y1="398.50" x2="141.70" y2="398.50" stroke="#1b4f8f" stroke-width="1.3" />
<text x="145.20" y="401.30" font-size="8.3" text-anchor="start" fill="#231f20" stroke="#231f20" stroke-width="0.12" textLength="42.50" lengthAdjust="spacingAndGlyphs" >Rh null iRBC</text>
<text x="246.30" y="319.00" font-size="11" text-anchor="start" fill="#231f20" font-weight="bold" textLength="6.00" lengthAdjust="spacingAndGlyphs" >F</text>
<line x1="275.00" y1="342.50" x2="275.00" y2="410.45" stroke="#231f20" stroke-width="1.35" />
<line x1="271.60" y1="409.80" x2="275.00" y2="409.80" stroke="#231f20" stroke-width="1.0" />
<text x="269.70" y="412.90" font-size="8.8" text-anchor="end" fill="#231f20" stroke="#231f20" stroke-width="0.12" textLength="4.65" lengthAdjust="spacingAndGlyphs" >0</text>
<line x1="271.60" y1="388.50" x2="275.00" y2="388.50" stroke="#231f20" stroke-width="1.0" />
<text x="269.70" y="391.60" font-size="8.8" text-anchor="end" fill="#231f20" stroke="#231f20" stroke-width="0.12" textLength="4.65" lengthAdjust="spacingAndGlyphs" >5</text>
<line x1="271.60" y1="367.20" x2="275.00" y2="367.20" stroke="#231f20" stroke-width="1.0" />
<text x="269.70" y="370.30" font-size="8.8" text-anchor="end" fill="#231f20" stroke="#231f20" stroke-width="0.12" textLength="9.30" lengthAdjust="spacingAndGlyphs" >10</text>
<line x1="271.60" y1="345.90" x2="275.00" y2="345.90" stroke="#231f20" stroke-width="1.0" />
<text x="269.70" y="349.00" font-size="8.8" text-anchor="end" fill="#231f20" stroke="#231f20" stroke-width="0.12" textLength="9.30" lengthAdjust="spacingAndGlyphs" >15</text>
<line x1="271.60" y1="409.80" x2="381.00" y2="409.80" stroke="#231f20" stroke-width="1.35" />
<rect x="284.20" y="362.51" width="15.00" height="47.29" fill="#c8102e"/>
<line x1="291.70" y1="361.02" x2="291.70" y2="363.86" stroke="#231f20" stroke-width="1.1" />
<line x1="288.00" y1="361.02" x2="295.40" y2="361.02" stroke="#231f20" stroke-width="1.1" />
<line x1="291.70" y1="409.80" x2="291.70" y2="413.00" stroke="#231f20" stroke-width="0.9" />
<rect x="308.60" y="365.07" width="15.00" height="44.73" fill="#f7941d"/>
<line x1="316.10" y1="361.88" x2="316.10" y2="367.95" stroke="#231f20" stroke-width="1.1" />
<line x1="312.40" y1="361.88" x2="319.80" y2="361.88" stroke="#231f20" stroke-width="1.1" />
<line x1="316.10" y1="409.80" x2="316.10" y2="413.00" stroke="#231f20" stroke-width="0.9" />
<rect x="333.00" y="372.31" width="15.00" height="37.49" fill="#3aaa35"/>
<line x1="340.50" y1="368.26" x2="340.50" y2="375.95" stroke="#231f20" stroke-width="1.1" />
<line x1="336.80" y1="368.26" x2="344.20" y2="368.26" stroke="#231f20" stroke-width="1.1" />
<line x1="340.50" y1="409.80" x2="340.50" y2="413.00" stroke="#231f20" stroke-width="0.9" />
<rect x="357.50" y="374.44" width="15.00" height="35.36" fill="#1b4f8f"/>
<line x1="365.00" y1="372.74" x2="365.00" y2="375.98" stroke="#231f20" stroke-width="1.1" />
<line x1="361.30" y1="372.74" x2="368.70" y2="372.74" stroke="#231f20" stroke-width="1.1" />
<line x1="365.00" y1="409.80" x2="365.00" y2="413.00" stroke="#231f20" stroke-width="0.9" />
<line x1="271.60" y1="409.80" x2="381.00" y2="409.80" stroke="#231f20" stroke-width="1.35" />
<circle cx="290.20" cy="362.94" r="1.5" fill="#231f20"/>
<circle cx="293.50" cy="362.73" r="1.5" fill="#231f20"/>
<circle cx="291.70" cy="361.02" r="1.5" fill="#231f20"/>
<rect x="312.40" y="360.89" width="2.4" height="2.4" fill="#231f20"/>
<rect x="317.40" y="360.89" width="2.4" height="2.4" fill="#231f20"/>
<rect x="314.90" y="366.43" width="2.4" height="2.4" fill="#231f20"/>
<path d="M336.70,375.22 L339.90,375.22 L338.30,372.42 Z" fill="#231f20"/>
<path d="M341.10,375.22 L344.30,375.22 L342.70,372.42 Z" fill="#231f20"/>
<path d="M338.90,369.68 L342.10,369.68 L340.50,366.88 Z" fill="#231f20"/>
<path d="M361.40,373.24 L364.60,373.24 L363.00,376.04 Z" fill="#231f20"/>
<path d="M365.40,373.24 L368.60,373.24 L367.00,376.04 Z" fill="#231f20"/>
<path d="M363.40,371.33 L366.60,371.33 L365.00,374.13 Z" fill="#231f20"/>
<path d="M291.50,333.00 L291.50,307.40 Q291.50,306.50 292.40,306.50 L364.60,306.50 Q365.50,306.50 365.50,307.40 L365.50,318.30" fill="none" stroke="#231f20" stroke-width="1.0"/>
<path d="M316.50,327.00 L316.50,322.40 Q316.50,321.50 317.40,321.50 L364.60,321.50 Q365.50,321.50 365.50,322.40 L365.50,348.70" fill="none" stroke="#231f20" stroke-width="1.0"/>
<path d="M291.50,348.00 L291.50,338.40 Q291.50,337.50 292.40,337.50 L339.60,337.50 Q340.50,337.50 340.50,338.40 L340.50,348.00" fill="none" stroke="#231f20" stroke-width="1.0"/>
<path d="M291.50,356.80 L291.50,353.40 Q291.50,352.50 292.40,352.50 L313.60,352.50 Q314.50,352.50 314.50,353.40 L314.50,356.80" fill="none" stroke="#231f20" stroke-width="1.0"/>
<path d="M317.50,356.80 L317.50,353.40 Q317.50,352.50 318.40,352.50 L338.60,352.50 Q339.50,352.50 339.50,353.40 L339.50,366.70" fill="none" stroke="#231f20" stroke-width="1.0"/>
<path d="M341.50,366.70 L341.50,353.40 Q341.50,352.50 342.40,352.50 L364.60,352.50 Q365.50,352.50 365.50,353.40 L365.50,369.40" fill="none" stroke="#231f20" stroke-width="1.0"/>
<text x="328.00" y="305.80" font-size="9.5" text-anchor="middle" fill="#231f20" stroke="#231f20" stroke-width="0.12" textLength="7.00" lengthAdjust="spacingAndGlyphs" >**</text>
<text x="340.20" y="320.90" font-size="9.5" text-anchor="middle" fill="#231f20" stroke="#231f20" stroke-width="0.12" textLength="7.00" lengthAdjust="spacingAndGlyphs" >**</text>
<text x="316.00" y="336.50" font-size="9.5" text-anchor="middle" fill="#231f20" stroke="#231f20" stroke-width="0.12" textLength="7.00" lengthAdjust="spacingAndGlyphs" >**</text>
<text x="328.00" y="352.20" font-size="9.5" text-anchor="middle" fill="#231f20" stroke="#231f20" stroke-width="0.12" >*</text>
<text x="303.30" y="349.60" font-size="7.2" text-anchor="middle" fill="#231f20" stroke="#231f20" stroke-width="0.12" textLength="7.20" lengthAdjust="spacingAndGlyphs" >ns</text>
<text x="353.70" y="349.60" font-size="7.2" text-anchor="middle" fill="#231f20" stroke="#231f20" stroke-width="0.12" textLength="7.20" lengthAdjust="spacingAndGlyphs" >ns</text>
<text x="295.30" y="420.40" font-size="8.4" text-anchor="end" fill="#231f20" textLength="19.50" lengthAdjust="spacingAndGlyphs" transform="rotate(-45 295.30 420.40)" >dRBC</text>
<text x="319.70" y="420.40" font-size="8.4" text-anchor="end" fill="#231f20" textLength="25.30" lengthAdjust="spacingAndGlyphs" transform="rotate(-45 319.70 420.40)" >pbRBC</text>
<text x="344.10" y="420.40" font-size="8.4" text-anchor="end" fill="#231f20" textLength="32.50" lengthAdjust="spacingAndGlyphs" transform="rotate(-45 344.10 420.40)" >WT iRBC</text>
<text x="368.60" y="420.40" font-size="8.4" text-anchor="end" fill="#231f20" textLength="46.50" lengthAdjust="spacingAndGlyphs" transform="rotate(-45 368.60 420.40)" >Rh null iRBC</text>
<text x="254.30" y="377.60" font-size="9.4" text-anchor="middle" fill="#231f20" textLength="13.00" lengthAdjust="spacingAndGlyphs" transform="rotate(-90 254.30 377.60)" >p50</text>
<text x="0.80" y="463.70" font-size="11" text-anchor="start" fill="#231f20" font-weight="bold" textLength="8.40" lengthAdjust="spacingAndGlyphs" >G</text>
<line x1="37.30" y1="472.50" x2="37.30" y2="587.40" stroke="#231f20" stroke-width="1.3" />
<line x1="33.90" y1="586.80" x2="37.30" y2="586.80" stroke="#231f20" stroke-width="1.0" />
<text x="32.00" y="589.90" font-size="8.8" text-anchor="end" fill="#231f20" stroke="#231f20" stroke-width="0.12" textLength="11.50" lengthAdjust="spacingAndGlyphs" >0.0</text>
<line x1="33.90" y1="549.50" x2="37.30" y2="549.50" stroke="#231f20" stroke-width="1.0" />
<text x="32.00" y="552.60" font-size="8.8" text-anchor="end" fill="#231f20" stroke="#231f20" stroke-width="0.12" textLength="11.50" lengthAdjust="spacingAndGlyphs" >0.2</text>
<line x1="33.90" y1="512.20" x2="37.30" y2="512.20" stroke="#231f20" stroke-width="1.0" />
<text x="32.00" y="515.30" font-size="8.8" text-anchor="end" fill="#231f20" stroke="#231f20" stroke-width="0.12" textLength="11.50" lengthAdjust="spacingAndGlyphs" >0.4</text>
<line x1="33.90" y1="474.90" x2="37.30" y2="474.90" stroke="#231f20" stroke-width="1.0" />
<text x="32.00" y="478.00" font-size="8.8" text-anchor="end" fill="#231f20" stroke="#231f20" stroke-width="0.12" textLength="11.50" lengthAdjust="spacingAndGlyphs" >0.6</text>
<line x1="33.90" y1="586.80" x2="191.50" y2="586.80" stroke="#231f20" stroke-width="1.3" />
<line x1="37.30" y1="586.80" x2="37.30" y2="590.20" stroke="#231f20" stroke-width="0.9" />
<text x="37.30" y="600.70" font-size="8.6" text-anchor="middle" fill="#231f20" stroke="#231f20" stroke-width="0.12" textLength="4.50" lengthAdjust="spacingAndGlyphs" >0</text>
<line x1="75.00" y1="586.80" x2="75.00" y2="590.20" stroke="#231f20" stroke-width="0.9" />
<text x="75.00" y="600.70" font-size="8.6" text-anchor="middle" fill="#231f20" stroke="#231f20" stroke-width="0.12" textLength="4.50" lengthAdjust="spacingAndGlyphs" >5</text>
<line x1="112.70" y1="586.80" x2="112.70" y2="590.20" stroke="#231f20" stroke-width="0.9" />
<text x="112.70" y="600.70" font-size="8.6" text-anchor="middle" fill="#231f20" stroke="#231f20" stroke-width="0.12" textLength="9.00" lengthAdjust="spacingAndGlyphs" >10</text>
<line x1="150.40" y1="586.80" x2="150.40" y2="590.20" stroke="#231f20" stroke-width="0.9" />
<text x="150.40" y="600.70" font-size="8.6" text-anchor="middle" fill="#231f20" stroke="#231f20" stroke-width="0.12" textLength="9.00" lengthAdjust="spacingAndGlyphs" >15</text>
<line x1="188.10" y1="586.80" x2="188.10" y2="590.20" stroke="#231f20" stroke-width="0.9" />
<text x="188.10" y="600.70" font-size="8.6" text-anchor="middle" fill="#231f20" stroke="#231f20" stroke-width="0.12" textLength="9.00" lengthAdjust="spacingAndGlyphs" >20</text>
<text x="113.20" y="614.20" font-size="9.6" text-anchor="middle" fill="#231f20" stroke="#231f20" stroke-width="0.12" textLength="56.80" lengthAdjust="spacingAndGlyphs" >Shear stress (Pa)</text>
<text x="14.50" y="530.50" font-size="9.2" text-anchor="middle" fill="#231f20" textLength="56.00" lengthAdjust="spacingAndGlyphs" transform="rotate(-90 14.50 530.50)" >EI (L-W)/(L+W)</text>
<path d="M37.30,581.20 L37.64,580.23 L37.98,579.68 L38.32,579.32 L38.66,579.07 L39.69,578.64 L40.71,578.40 L42.42,578.19 L47.54,577.95 L57.43,577.81 L75.51,577.74 L173.77,577.68" fill="none" stroke="#1b4f8f" stroke-width="1.2" stroke-linejoin="round" stroke-linecap="round" />
<path d="M37.30,581.20 L37.67,579.90 L38.03,578.96 L38.76,577.70 L39.13,577.26 L39.86,576.59 L40.96,575.91 L41.69,575.60 L42.79,575.24 L44.98,574.77 L48.27,574.36 L52.29,574.08 L57.41,573.87 L64.36,573.71 L85.57,573.49 L121.77,573.36 L183.58,573.29" fill="none" stroke="#3aaa35" stroke-width="1.2" stroke-linejoin="round" stroke-linecap="round" />
<path d="M37.30,581.20 L37.64,579.69 L37.98,578.58 L38.66,577.05 L39.01,576.51 L39.69,575.68 L40.37,575.08 L41.05,574.63 L41.74,574.27 L42.76,573.86 L43.78,573.55 L45.15,573.23 L47.88,572.82 L51.63,572.47 L56.75,572.19 L63.23,571.99 L82.68,571.71 L116.11,571.55 L173.77,571.46" fill="none" stroke="#f7941d" stroke-width="1.2" stroke-linejoin="round" stroke-linecap="round" />
<path d="M37.30,581.20 L38.82,574.94 L40.33,569.40 L42.23,563.30 L44.12,557.98 L46.01,553.28 L47.91,549.11 L50.18,544.68 L52.46,540.78 L55.11,536.77 L57.76,533.24 L60.41,530.12 L63.44,526.97 L66.85,523.85 L70.26,521.11 L74.05,518.43 L77.84,516.07 L82.01,513.77 L86.18,511.74 L91.10,509.63 L96.03,507.77 L101.33,506.00 L107.01,504.32 L113.08,502.75 L119.52,501.28 L126.34,499.90 L133.54,498.62 L141.49,497.38 L149.83,496.22 L158.54,495.16 L168.02,494.15 L178.25,493.18 L188.85,492.30" fill="none" stroke="#c8102e" stroke-width="1.2" stroke-linejoin="round" stroke-linecap="round" />
<line x1="132.80" y1="511.50" x2="144.40" y2="511.50" stroke="#c8102e" stroke-width="1.3" />
<text x="149.00" y="513.90" font-size="8.3" text-anchor="start" fill="#231f20" stroke="#231f20" stroke-width="0.12" textLength="18.80" lengthAdjust="spacingAndGlyphs" >dRBC</text>
<line x1="132.80" y1="523.50" x2="144.40" y2="523.50" stroke="#f7941d" stroke-width="1.3" />
<text x="149.00" y="525.90" font-size="8.3" text-anchor="start" fill="#231f20" stroke="#231f20" stroke-width="0.12" textLength="24.30" lengthAdjust="spacingAndGlyphs" >pbRBC</text>
<line x1="132.80" y1="535.50" x2="144.40" y2="535.50" stroke="#3aaa35" stroke-width="1.3" />
<text x="149.00" y="537.90" font-size="8.3" text-anchor="start" fill="#231f20" stroke="#231f20" stroke-width="0.12" textLength="31.00" lengthAdjust="spacingAndGlyphs" >WT iRBC</text>
<line x1="132.80" y1="547.50" x2="144.40" y2="547.50" stroke="#1b4f8f" stroke-width="1.3" />
<text x="149.00" y="549.90" font-size="8.3" text-anchor="start" fill="#231f20" stroke="#231f20" stroke-width="0.12" textLength="42.80" lengthAdjust="spacingAndGlyphs" >Rh null iRBC</text>
<text x="245.30" y="463.70" font-size="11" text-anchor="start" fill="#231f20" font-weight="bold" textLength="7.90" lengthAdjust="spacingAndGlyphs" >H</text>
<line x1="274.50" y1="509.00" x2="274.50" y2="587.45" stroke="#231f20" stroke-width="1.35" />
<line x1="271.10" y1="586.80" x2="274.50" y2="586.80" stroke="#231f20" stroke-width="1.0" />
<text x="269.20" y="589.90" font-size="8.8" text-anchor="end" fill="#231f20" stroke="#231f20" stroke-width="0.12" textLength="11.50" lengthAdjust="spacingAndGlyphs" >0.0</text>
<line x1="271.10" y1="563.10" x2="274.50" y2="563.10" stroke="#231f20" stroke-width="1.0" />
<text x="269.20" y="566.20" font-size="8.8" text-anchor="end" fill="#231f20" stroke="#231f20" stroke-width="0.12" textLength="11.50" lengthAdjust="spacingAndGlyphs" >0.2</text>
<line x1="271.10" y1="539.40" x2="274.50" y2="539.40" stroke="#231f20" stroke-width="1.0" />
<text x="269.20" y="542.50" font-size="8.8" text-anchor="end" fill="#231f20" stroke="#231f20" stroke-width="0.12" textLength="11.50" lengthAdjust="spacingAndGlyphs" >0.4</text>
<line x1="271.10" y1="515.70" x2="274.50" y2="515.70" stroke="#231f20" stroke-width="1.0" />
<text x="269.20" y="518.80" font-size="8.8" text-anchor="end" fill="#231f20" stroke="#231f20" stroke-width="0.12" textLength="11.50" lengthAdjust="spacingAndGlyphs" >0.6</text>
<line x1="271.10" y1="586.80" x2="439.30" y2="586.80" stroke="#231f20" stroke-width="1.35" />
<rect x="279.70" y="541.65" width="7.80" height="45.15" fill="#c8102e"/>
<line x1="283.60" y1="540.11" x2="283.60" y2="542.15" stroke="#231f20" stroke-width="0.9" />
<line x1="280.90" y1="540.11" x2="286.30" y2="540.11" stroke="#231f20" stroke-width="0.9" />
<rect x="291.80" y="577.91" width="7.80" height="8.89" fill="#f7941d"/>
<line x1="295.70" y1="575.78" x2="295.70" y2="578.41" stroke="#231f20" stroke-width="0.9" />
<line x1="293.00" y1="575.78" x2="298.40" y2="575.78" stroke="#231f20" stroke-width="0.9" />
<rect x="303.90" y="579.10" width="7.80" height="7.70" fill="#3aaa35"/>
<line x1="307.80" y1="576.96" x2="307.80" y2="579.60" stroke="#231f20" stroke-width="0.9" />
<line x1="305.10" y1="576.96" x2="310.50" y2="576.96" stroke="#231f20" stroke-width="0.9" />
<rect x="316.00" y="580.88" width="7.80" height="5.93" fill="#1b4f8f"/>
<line x1="319.90" y1="579.69" x2="319.90" y2="581.38" stroke="#231f20" stroke-width="0.9" />
<line x1="317.20" y1="579.69" x2="322.60" y2="579.69" stroke="#231f20" stroke-width="0.9" />
<line x1="301.75" y1="586.80" x2="301.75" y2="590.00" stroke="#231f20" stroke-width="0.9" />
<text x="300.80" y="600.20" font-size="8.4" text-anchor="middle" fill="#231f20" stroke="#231f20" stroke-width="0.12" textLength="32.50" lengthAdjust="spacingAndGlyphs" >EI @ 5 Pa</text>
<path d="M282.50,538.15 L282.50,518.30 Q282.50,517.50 283.30,517.50 L294.70,517.50 Q295.50,517.50 295.50,518.30 L295.50,576.00" fill="none" stroke="#231f20" stroke-width="1.0"/>
<path d="M282.50,507.50 L282.50,504.30 Q282.50,503.50 283.30,503.50 L306.70,503.50 Q307.50,503.50 307.50,504.30 L307.50,576.00" fill="none" stroke="#231f20" stroke-width="1.0"/>
<path d="M282.50,494.50 L282.50,489.30 Q282.50,488.50 283.30,488.50 L319.70,488.50 Q320.50,488.50 320.50,489.30 L320.50,579.00" fill="none" stroke="#231f20" stroke-width="1.0"/>
<text x="289.15" y="516.00" font-size="8.0" text-anchor="middle" fill="#231f20" stroke="#231f20" stroke-width="0.12" textLength="12.60" lengthAdjust="spacingAndGlyphs" >****</text>
<text x="294.70" y="502.00" font-size="8.0" text-anchor="middle" fill="#231f20" stroke="#231f20" stroke-width="0.12" textLength="12.60" lengthAdjust="spacingAndGlyphs" >****</text>
<text x="300.75" y="487.50" font-size="8.0" text-anchor="middle" fill="#231f20" stroke="#231f20" stroke-width="0.12" textLength="12.60" lengthAdjust="spacingAndGlyphs" >****</text>
<rect x="335.40" y="533.83" width="7.80" height="52.97" fill="#c8102e"/>
<line x1="339.30" y1="531.70" x2="339.30" y2="534.33" stroke="#231f20" stroke-width="0.9" />
<line x1="336.60" y1="531.70" x2="342.00" y2="531.70" stroke="#231f20" stroke-width="0.9" />
<rect x="347.50" y="577.32" width="7.80" height="9.48" fill="#f7941d"/>
<line x1="351.40" y1="574.95" x2="351.40" y2="577.82" stroke="#231f20" stroke-width="0.9" />
<line x1="348.70" y1="574.95" x2="354.10" y2="574.95" stroke="#231f20" stroke-width="0.9" />
<rect x="359.60" y="578.50" width="7.80" height="8.29" fill="#3aaa35"/>
<line x1="363.50" y1="576.13" x2="363.50" y2="579.00" stroke="#231f20" stroke-width="0.9" />
<line x1="360.80" y1="576.13" x2="366.20" y2="576.13" stroke="#231f20" stroke-width="0.9" />
<rect x="371.70" y="580.88" width="7.80" height="5.93" fill="#1b4f8f"/>
<line x1="375.60" y1="579.45" x2="375.60" y2="581.38" stroke="#231f20" stroke-width="0.9" />
<line x1="372.90" y1="579.45" x2="378.30" y2="579.45" stroke="#231f20" stroke-width="0.9" />
<line x1="357.45" y1="586.80" x2="357.45" y2="590.00" stroke="#231f20" stroke-width="0.9" />
<text x="357.40" y="600.20" font-size="8.4" text-anchor="middle" fill="#231f20" stroke="#231f20" stroke-width="0.12" textLength="37.00" lengthAdjust="spacingAndGlyphs" >EI @ 10 Pa</text>
<path d="M338.50,530.33 L338.50,518.30 Q338.50,517.50 339.30,517.50 L350.70,517.50 Q351.50,517.50 351.50,518.30 L351.50,576.00" fill="none" stroke="#231f20" stroke-width="1.0"/>
<path d="M338.50,507.50 L338.50,504.30 Q338.50,503.50 339.30,503.50 L362.70,503.50 Q363.50,503.50 363.50,504.30 L363.50,576.00" fill="none" stroke="#231f20" stroke-width="1.0"/>
<path d="M338.50,494.50 L338.50,489.30 Q338.50,488.50 339.30,488.50 L374.70,488.50 Q375.50,488.50 375.50,489.30 L375.50,579.00" fill="none" stroke="#231f20" stroke-width="1.0"/>
<text x="344.85" y="516.00" font-size="8.0" text-anchor="middle" fill="#231f20" stroke="#231f20" stroke-width="0.12" textLength="12.60" lengthAdjust="spacingAndGlyphs" >****</text>
<text x="350.40" y="502.00" font-size="8.0" text-anchor="middle" fill="#231f20" stroke="#231f20" stroke-width="0.12" textLength="12.60" lengthAdjust="spacingAndGlyphs" >****</text>
<text x="356.45" y="487.50" font-size="8.0" text-anchor="middle" fill="#231f20" stroke="#231f20" stroke-width="0.12" textLength="12.60" lengthAdjust="spacingAndGlyphs" >****</text>
<rect x="391.40" y="527.79" width="7.80" height="59.01" fill="#c8102e"/>
<line x1="395.30" y1="525.89" x2="395.30" y2="528.29" stroke="#231f20" stroke-width="0.9" />
<line x1="392.60" y1="525.89" x2="398.00" y2="525.89" stroke="#231f20" stroke-width="0.9" />
<rect x="403.50" y="577.56" width="7.80" height="9.24" fill="#f7941d"/>
<line x1="407.40" y1="574.59" x2="407.40" y2="578.06" stroke="#231f20" stroke-width="0.9" />
<line x1="404.70" y1="574.59" x2="410.10" y2="574.59" stroke="#231f20" stroke-width="0.9" />
<rect x="415.60" y="576.96" width="7.80" height="9.84" fill="#3aaa35"/>
<line x1="419.50" y1="574.00" x2="419.50" y2="577.46" stroke="#231f20" stroke-width="0.9" />
<line x1="416.80" y1="574.00" x2="422.20" y2="574.00" stroke="#231f20" stroke-width="0.9" />
<rect x="427.70" y="581.23" width="7.80" height="5.57" fill="#1b4f8f"/>
<line x1="431.60" y1="579.10" x2="431.60" y2="581.73" stroke="#231f20" stroke-width="0.9" />
<line x1="428.90" y1="579.10" x2="434.30" y2="579.10" stroke="#231f20" stroke-width="0.9" />
<line x1="413.45" y1="586.80" x2="413.45" y2="590.00" stroke="#231f20" stroke-width="0.9" />
<text x="413.00" y="600.20" font-size="8.4" text-anchor="middle" fill="#231f20" stroke="#231f20" stroke-width="0.12" textLength="24.00" lengthAdjust="spacingAndGlyphs" >EI max</text>
<path d="M394.50,524.29 L394.50,518.30 Q394.50,517.50 395.30,517.50 L406.70,517.50 Q407.50,517.50 407.50,518.30 L407.50,576.00" fill="none" stroke="#231f20" stroke-width="1.0"/>
<path d="M394.50,507.50 L394.50,504.30 Q394.50,503.50 395.30,503.50 L418.70,503.50 Q419.50,503.50 419.50,504.30 L419.50,576.00" fill="none" stroke="#231f20" stroke-width="1.0"/>
<path d="M394.50,494.50 L394.50,489.30 Q394.50,488.50 395.30,488.50 L430.70,488.50 Q431.50,488.50 431.50,489.30 L431.50,579.00" fill="none" stroke="#231f20" stroke-width="1.0"/>
<text x="400.85" y="516.00" font-size="8.0" text-anchor="middle" fill="#231f20" stroke="#231f20" stroke-width="0.12" textLength="12.60" lengthAdjust="spacingAndGlyphs" >****</text>
<text x="406.40" y="502.00" font-size="8.0" text-anchor="middle" fill="#231f20" stroke="#231f20" stroke-width="0.12" textLength="12.60" lengthAdjust="spacingAndGlyphs" >****</text>
<text x="412.45" y="487.50" font-size="8.0" text-anchor="middle" fill="#231f20" stroke="#231f20" stroke-width="0.12" textLength="12.60" lengthAdjust="spacingAndGlyphs" >****</text>
<line x1="271.10" y1="586.80" x2="439.30" y2="586.80" stroke="#231f20" stroke-width="1.35" />
<text x="252.60" y="551.00" font-size="9.2" text-anchor="middle" fill="#231f20" textLength="52.70" lengthAdjust="spacingAndGlyphs" transform="rotate(-90 252.60 551.00)" >EI (L-W)/(L+W)</text>
<rect x="442.70" y="526.50" width="6.50" height="6.00" fill="#c8102e"/>
<text x="452.70" y="532.40" font-size="8.3" text-anchor="start" fill="#231f20" stroke="#231f20" stroke-width="0.12" textLength="18.80" lengthAdjust="spacingAndGlyphs" >dRBC</text>
<rect x="442.70" y="538.90" width="6.50" height="6.00" fill="#f7941d"/>
<text x="452.70" y="544.80" font-size="8.3" text-anchor="start" fill="#231f20" stroke="#231f20" stroke-width="0.12" textLength="24.50" lengthAdjust="spacingAndGlyphs" >pbRBC</text>
<rect x="442.70" y="551.30" width="6.50" height="6.00" fill="#3aaa35"/>
<text x="452.70" y="557.20" font-size="8.3" text-anchor="start" fill="#231f20" stroke="#231f20" stroke-width="0.12" textLength="66.80" lengthAdjust="spacingAndGlyphs" >WT esRBC or iRBC</text>
<rect x="442.70" y="563.70" width="6.50" height="6.00" fill="#1b4f8f"/>
<text x="452.70" y="569.60" font-size="8.3" text-anchor="start" fill="#231f20" stroke="#231f20" stroke-width="0.12" textLength="43.50" lengthAdjust="spacingAndGlyphs" >Rh null iRBC</text>
<text x="397.40" y="9.90" font-size="11" text-anchor="start" fill="#231f20" font-weight="bold" textLength="2.80" lengthAdjust="spacingAndGlyphs" >I</text>
<text x="464.80" y="23.80" font-size="8.7" text-anchor="middle" fill="#231f20" stroke="#231f20" stroke-width="0.12" textLength="25.50" lengthAdjust="spacingAndGlyphs" >dRBCs</text>
<g clip-path="url(#clipd)">
<rect x="413.00" y="28.40" width="104.00" height="77.40" fill="#060303"/>
<path d="M423.00,70.40 Q463.00,35.40 503.00,70.40 Q463.00,105.40 423.00,70.40 Z" fill="#5e1008" filter="url(#b5)"/>
<path d="M428.00,70.40 Q463.00,43.40 498.00,70.40 Q463.00,97.40 428.00,70.40 Z" fill="#b02a14" filter="url(#b3)"/>
<path d="M433.00,70.40 Q463.00,49.40 493.00,70.40 Q463.00,91.40 433.00,70.40 Z" fill="#e2482a" filter="url(#b2)"/>
<path d="M438.50,70.40 Q463.00,54.00 487.50,70.40 Q463.00,86.80 438.50,70.40 Z" fill="#ffb9a4" filter="url(#b15)"/>
<path d="M442.00,70.40 Q463.00,57.60 484.00,70.40 Q463.00,83.20 442.00,70.40 Z" fill="#ffffff" filter="url(#b1)"/>
<circle cx="463.0" cy="70.4" r="3.0" fill="#fdeee9" stroke="#a4524a" stroke-width="1.7" filter="url(#b05)"/>
</g>
<text x="464.80" y="124.60" font-size="8.7" text-anchor="middle" fill="#231f20" stroke="#231f20" stroke-width="0.12" textLength="30.50" lengthAdjust="spacingAndGlyphs" >pbRBCs</text>
<g clip-path="url(#clipp)">
<rect x="413.00" y="129.20" width="104.00" height="77.40" fill="#060303"/>
<ellipse cx="463.0" cy="170.7" rx="46.86" ry="38.43" fill="url(#haze)"/>
<ellipse cx="463.0" cy="170.7" rx="39.05" ry="32.02" fill="url(#gp)"/>
<ellipse cx="463.0" cy="170.7" rx="14.00" ry="12.40" fill="#ffffff" filter="url(#b1)"/>
<circle cx="463.0" cy="170.7" r="3.0" fill="#fdeee9" stroke="#a4524a" stroke-width="1.7" filter="url(#b05)"/>
</g>
<text x="464.80" y="225.80" font-size="8.7" text-anchor="middle" fill="#231f20" stroke="#231f20" stroke-width="0.12" textLength="68.50" lengthAdjust="spacingAndGlyphs" >WT esRBCs/iRBCs</text>
<g clip-path="url(#clipw)">
<rect x="413.00" y="230.40" width="104.00" height="77.40" fill="#060303"/>
<ellipse cx="462.5" cy="272.4" rx="40.66" ry="37.20" fill="url(#haze)"/>
<ellipse cx="462.5" cy="272.4" rx="33.88" ry="31.00" fill="url(#gw)"/>
<ellipse cx="462.5" cy="272.4" rx="11.30" ry="10.30" fill="#ffffff" filter="url(#b1)"/>
<circle cx="462.5" cy="272.4" r="3.0" fill="#fdeee9" stroke="#a4524a" stroke-width="1.7" filter="url(#b05)"/>
</g>
<text x="464.80" y="327.50" font-size="8.7" text-anchor="middle" fill="#231f20" stroke="#231f20" stroke-width="0.12" textLength="50.00" lengthAdjust="spacingAndGlyphs" >Rh null iRBCs</text>
<g clip-path="url(#clipr)">
<rect x="413.00" y="332.10" width="104.00" height="77.40" fill="#060303"/>
<ellipse cx="462.5" cy="374.0" rx="40.39" ry="37.77" fill="url(#haze)"/>
<ellipse cx="462.5" cy="374.0" rx="33.66" ry="31.47" fill="url(#gr)"/>
<ellipse cx="462.5" cy="374.0" rx="9.80" ry="9.60" fill="#ffffff" filter="url(#b1)"/>
<circle cx="462.5" cy="374.0" r="3.0" fill="#fdeee9" stroke="#a4524a" stroke-width="1.7" filter="url(#b05)"/>
</g>
</svg>
</body>
</html>
